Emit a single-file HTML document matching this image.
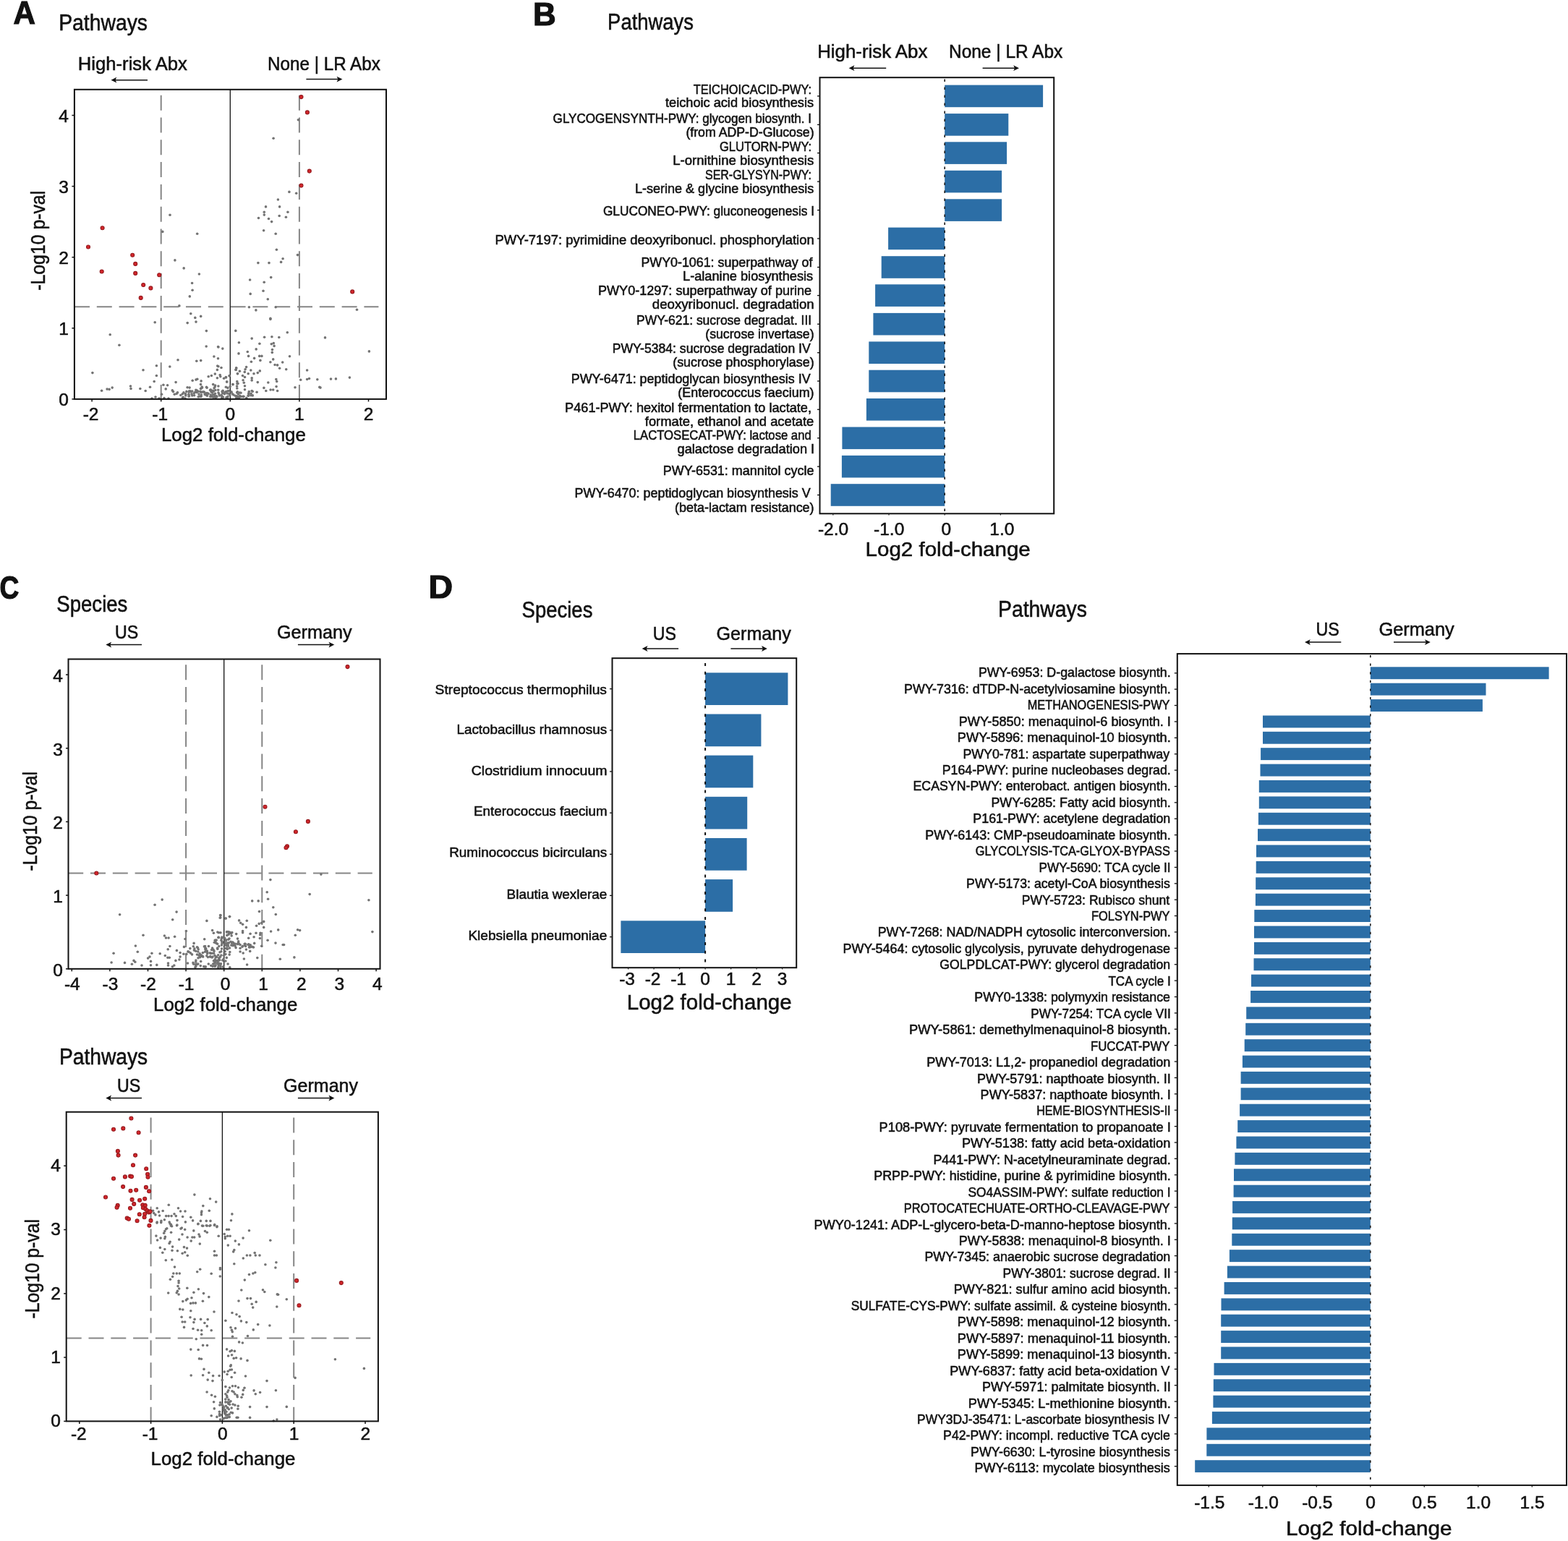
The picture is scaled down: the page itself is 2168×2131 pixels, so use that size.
<!DOCTYPE html><html><head><meta charset="utf-8"><title>Figure</title><style>html,body{margin:0;padding:0;background:#fff;}svg{display:block;}text{stroke:#111;stroke-width:0.55px;}text[font-weight=bold]{stroke-width:1.2px;}</style></head><body><svg width="2168" height="2131" viewBox="0 0 2168 2131" font-family='"Liberation Sans", Arial, sans-serif' fill="#111"><text x="18.4" y="32.5" font-size="45" textLength="30.4" lengthAdjust="spacingAndGlyphs" font-weight="bold">A</text><text x="81.2" y="41.9" font-size="31" textLength="122.8" lengthAdjust="spacingAndGlyphs">Pathways</text><text x="107.8" y="97.1" font-size="26" textLength="151.1" lengthAdjust="spacingAndGlyphs">High-risk Abx</text><text x="370.0" y="97.4" font-size="26" textLength="155.9" lengthAdjust="spacingAndGlyphs">None | LR Abx</text><line x1="158.5" y1="110.7" x2="204.0" y2="110.7" stroke="#111" stroke-width="1.5"/><path d="M153.5,110.7 L161.3,106.8 L159.5,110.7 L161.3,114.6 Z" fill="#111"/><line x1="423.4" y1="109.6" x2="468.4" y2="109.6" stroke="#111" stroke-width="1.5"/><path d="M473.4,109.6 L465.6,105.7 L467.4,109.6 L465.6,113.5 Z" fill="#111"/><line x1="222.7" y1="131.7" x2="222.7" y2="551.9" stroke="#858585" stroke-width="2" stroke-dasharray="21 9.8"/><line x1="413.9" y1="131.7" x2="413.9" y2="551.9" stroke="#858585" stroke-width="2" stroke-dasharray="21 9.8"/><line x1="103.0" y1="424.3" x2="523.4" y2="424.3" stroke="#858585" stroke-width="2" stroke-dasharray="21 9.8"/><line x1="318.3" y1="123.8" x2="318.3" y2="551.9" stroke="#111" stroke-width="1.3"/><g fill="#737373"><circle cx="235.0" cy="297.3" r="1.8"/><circle cx="224.8" cy="320.4" r="1.8"/><circle cx="272.7" cy="323.3" r="1.8"/><circle cx="241.9" cy="359.9" r="1.8"/><circle cx="254.2" cy="370.9" r="1.8"/><circle cx="275.4" cy="379.0" r="1.8"/><circle cx="265.6" cy="391.5" r="1.8"/><circle cx="266.1" cy="401.2" r="1.8"/><circle cx="262.3" cy="409.9" r="1.8"/><circle cx="247.9" cy="422.9" r="1.8"/><circle cx="263.8" cy="433.7" r="1.8"/><circle cx="269.8" cy="439.4" r="1.8"/><circle cx="277.7" cy="437.4" r="1.8"/><circle cx="271.0" cy="445.1" r="1.8"/><circle cx="259.2" cy="446.6" r="1.8"/><circle cx="214.2" cy="445.7" r="1.8"/><circle cx="285.4" cy="457.6" r="1.8"/><circle cx="152.2" cy="462.8" r="1.8"/><circle cx="164.9" cy="477.2" r="1.8"/><circle cx="285.2" cy="479.0" r="1.8"/><circle cx="301.6" cy="479.5" r="1.8"/><circle cx="412.4" cy="165.7" r="1.8"/><circle cx="378.1" cy="191.2" r="1.8"/><circle cx="399.9" cy="265.4" r="1.8"/><circle cx="409.7" cy="267.2" r="1.8"/><circle cx="384.4" cy="276.0" r="1.8"/><circle cx="367.5" cy="285.9" r="1.8"/><circle cx="386.6" cy="285.9" r="1.8"/><circle cx="365.3" cy="293.2" r="1.8"/><circle cx="397.9" cy="293.2" r="1.8"/><circle cx="365.3" cy="297.1" r="1.8"/><circle cx="357.5" cy="301.5" r="1.8"/><circle cx="386.2" cy="298.5" r="1.8"/><circle cx="395.4" cy="300.3" r="1.8"/><circle cx="371.5" cy="302.5" r="1.8"/><circle cx="375.6" cy="306.6" r="1.8"/><circle cx="364.6" cy="318.7" r="1.8"/><circle cx="381.2" cy="323.2" r="1.8"/><circle cx="382.4" cy="345.2" r="1.8"/><circle cx="411.5" cy="352.6" r="1.8"/><circle cx="391.1" cy="357.7" r="1.8"/><circle cx="388.6" cy="362.4" r="1.8"/><circle cx="356.9" cy="363.6" r="1.8"/><circle cx="372.0" cy="363.6" r="1.8"/><circle cx="374.7" cy="383.6" r="1.8"/><circle cx="345.6" cy="387.0" r="1.8"/><circle cx="365.2" cy="390.3" r="1.8"/><circle cx="364.0" cy="402.2" r="1.8"/><circle cx="346.2" cy="406.4" r="1.8"/><circle cx="370.3" cy="413.8" r="1.8"/><circle cx="344.4" cy="424.8" r="1.8"/><circle cx="381.2" cy="424.8" r="1.8"/><circle cx="353.9" cy="428.9" r="1.8"/><circle cx="493.5" cy="428.3" r="1.8"/><circle cx="373.9" cy="440.2" r="1.8"/><circle cx="373.9" cy="441.4" r="1.8"/><circle cx="325.8" cy="457.4" r="1.8"/><circle cx="397.3" cy="459.8" r="1.8"/><circle cx="348.2" cy="468.1" r="1.8"/><circle cx="365.6" cy="466.3" r="1.8"/><circle cx="375.9" cy="465.7" r="1.8"/><circle cx="385.8" cy="466.5" r="1.8"/><circle cx="449.5" cy="466.9" r="1.8"/><circle cx="330.4" cy="473.7" r="1.8"/><circle cx="358.9" cy="475.2" r="1.8"/><circle cx="375.3" cy="475.8" r="1.8"/><circle cx="378.3" cy="474.6" r="1.8"/><circle cx="379.1" cy="478.4" r="1.8"/><circle cx="354.2" cy="482.9" r="1.8"/><circle cx="376.5" cy="483.5" r="1.8"/><circle cx="376.3" cy="487.4" r="1.8"/><circle cx="342.3" cy="486.5" r="1.8"/><circle cx="330.0" cy="488.9" r="1.8"/><circle cx="510.4" cy="485.9" r="1.8"/><circle cx="343.6" cy="492.4" r="1.8"/><circle cx="358.7" cy="492.4" r="1.8"/><circle cx="361.9" cy="492.4" r="1.8"/><circle cx="351.6" cy="495.4" r="1.8"/><circle cx="400.5" cy="492.7" r="1.8"/><circle cx="377.7" cy="496.9" r="1.8"/><circle cx="359.9" cy="498.4" r="1.8"/><circle cx="347.4" cy="500.3" r="1.8"/><circle cx="373.9" cy="500.7" r="1.8"/><circle cx="390.7" cy="501.0" r="1.8"/><circle cx="380.1" cy="504.5" r="1.8"/><circle cx="383.6" cy="504.9" r="1.8"/><circle cx="386.6" cy="509.3" r="1.8"/><circle cx="395.7" cy="510.8" r="1.8"/><circle cx="326.6" cy="508.8" r="1.8"/><circle cx="326.0" cy="511.2" r="1.8"/><circle cx="340.6" cy="507.6" r="1.8"/><circle cx="339.1" cy="510.8" r="1.8"/><circle cx="338.3" cy="514.4" r="1.8"/><circle cx="331.4" cy="513.2" r="1.8"/><circle cx="328.4" cy="516.8" r="1.8"/><circle cx="346.8" cy="512.0" r="1.8"/><circle cx="343.2" cy="516.8" r="1.8"/><circle cx="351.0" cy="516.8" r="1.8"/><circle cx="356.3" cy="515.6" r="1.8"/><circle cx="359.3" cy="512.9" r="1.8"/><circle cx="424.6" cy="512.0" r="1.8"/><circle cx="335.5" cy="519.5" r="1.8"/><circle cx="338.5" cy="521.5" r="1.8"/><circle cx="348.2" cy="522.7" r="1.8"/><circle cx="348.2" cy="525.9" r="1.8"/><circle cx="336.1" cy="525.7" r="1.8"/><circle cx="337.3" cy="529.2" r="1.8"/><circle cx="338.5" cy="533.7" r="1.8"/><circle cx="356.3" cy="528.6" r="1.8"/><circle cx="370.8" cy="529.0" r="1.8"/><circle cx="381.8" cy="524.5" r="1.8"/><circle cx="382.7" cy="527.5" r="1.8"/><circle cx="415.7" cy="525.3" r="1.8"/><circle cx="424.6" cy="524.5" r="1.8"/><circle cx="427.5" cy="523.5" r="1.8"/><circle cx="438.8" cy="524.7" r="1.8"/><circle cx="457.5" cy="524.1" r="1.8"/><circle cx="464.4" cy="523.9" r="1.8"/><circle cx="483.4" cy="522.1" r="1.8"/><circle cx="408.0" cy="535.8" r="1.8"/><circle cx="441.8" cy="535.4" r="1.8"/><circle cx="443.0" cy="536.1" r="1.8"/><circle cx="382.1" cy="534.6" r="1.8"/><circle cx="364.9" cy="536.4" r="1.8"/><circle cx="367.8" cy="540.5" r="1.8"/><circle cx="374.1" cy="539.0" r="1.8"/><circle cx="377.7" cy="539.0" r="1.8"/><circle cx="383.6" cy="540.5" r="1.8"/><circle cx="327.8" cy="527.5" r="1.8"/><circle cx="329.0" cy="530.4" r="1.8"/><circle cx="327.6" cy="534.0" r="1.8"/><circle cx="327.8" cy="537.0" r="1.8"/><circle cx="312.4" cy="521.5" r="1.8"/><circle cx="313.6" cy="528.0" r="1.8"/><circle cx="321.9" cy="531.6" r="1.8"/><circle cx="312.4" cy="535.2" r="1.8"/><circle cx="317.1" cy="519.7" r="1.8"/><circle cx="355.1" cy="542.3" r="1.8"/><circle cx="338.5" cy="538.7" r="1.8"/><circle cx="343.2" cy="547.0" r="1.8"/><circle cx="301.9" cy="480.0" r="1.8"/><circle cx="307.8" cy="482.1" r="1.8"/><circle cx="295.9" cy="493.0" r="1.8"/><circle cx="301.5" cy="495.8" r="1.8"/><circle cx="246.0" cy="497.8" r="1.8"/><circle cx="271.8" cy="499.3" r="1.8"/><circle cx="277.7" cy="498.6" r="1.8"/><circle cx="216.4" cy="505.7" r="1.8"/><circle cx="234.8" cy="507.0" r="1.8"/><circle cx="198.0" cy="511.8" r="1.8"/><circle cx="127.9" cy="515.6" r="1.8"/><circle cx="216.4" cy="519.5" r="1.8"/><circle cx="300.7" cy="506.1" r="1.8"/><circle cx="301.9" cy="506.7" r="1.8"/><circle cx="306.0" cy="508.5" r="1.8"/><circle cx="300.4" cy="511.4" r="1.8"/><circle cx="297.3" cy="517.1" r="1.8"/><circle cx="288.2" cy="520.7" r="1.8"/><circle cx="292.4" cy="519.5" r="1.8"/><circle cx="304.2" cy="518.6" r="1.8"/><circle cx="304.8" cy="520.7" r="1.8"/><circle cx="300.4" cy="522.7" r="1.8"/><circle cx="309.6" cy="523.3" r="1.8"/><circle cx="312.5" cy="521.9" r="1.8"/><circle cx="317.3" cy="519.7" r="1.8"/><circle cx="326.8" cy="509.0" r="1.8"/><circle cx="326.2" cy="511.4" r="1.8"/><circle cx="328.6" cy="516.8" r="1.8"/><circle cx="213.2" cy="527.5" r="1.8"/><circle cx="243.1" cy="528.6" r="1.8"/><circle cx="266.2" cy="526.3" r="1.8"/><circle cx="271.0" cy="525.1" r="1.8"/><circle cx="272.8" cy="524.3" r="1.8"/><circle cx="278.1" cy="526.9" r="1.8"/><circle cx="277.5" cy="531.6" r="1.8"/><circle cx="277.5" cy="537.5" r="1.8"/><circle cx="225.9" cy="532.2" r="1.8"/><circle cx="231.6" cy="532.8" r="1.8"/><circle cx="229.2" cy="537.9" r="1.8"/><circle cx="238.3" cy="539.9" r="1.8"/><circle cx="207.5" cy="535.2" r="1.8"/><circle cx="193.8" cy="537.5" r="1.8"/><circle cx="201.2" cy="540.5" r="1.8"/><circle cx="180.5" cy="534.0" r="1.8"/><circle cx="181.0" cy="537.5" r="1.8"/><circle cx="155.2" cy="536.1" r="1.8"/><circle cx="148.1" cy="538.1" r="1.8"/><circle cx="151.1" cy="538.4" r="1.8"/><circle cx="140.6" cy="540.2" r="1.8"/><circle cx="259.1" cy="535.8" r="1.8"/><circle cx="262.1" cy="536.1" r="1.8"/><circle cx="285.5" cy="535.2" r="1.8"/><circle cx="294.7" cy="531.6" r="1.8"/><circle cx="297.1" cy="534.9" r="1.8"/><circle cx="301.9" cy="534.0" r="1.8"/><circle cx="313.7" cy="528.0" r="1.8"/><circle cx="314.9" cy="536.4" r="1.8"/><circle cx="322.0" cy="531.6" r="1.8"/><circle cx="328.0" cy="530.4" r="1.8"/><circle cx="257.9" cy="541.4" r="1.8"/><circle cx="263.6" cy="541.4" r="1.8"/><circle cx="245.5" cy="542.9" r="1.8"/><circle cx="249.8" cy="546.5" r="1.8"/><circle cx="241.3" cy="545.3" r="1.8"/><circle cx="256.7" cy="545.3" r="1.8"/><circle cx="269.8" cy="542.3" r="1.8"/><circle cx="223.5" cy="545.3" r="1.8"/><circle cx="210.0" cy="551.0" r="1.8"/><circle cx="220.0" cy="551.0" r="1.8"/><circle cx="227.0" cy="550.5" r="1.8"/><circle cx="233.0" cy="551.0" r="1.8"/><circle cx="256.0" cy="551.0" r="1.8"/><circle cx="215.0" cy="549.0" r="1.8"/><circle cx="292.1" cy="541.6" r="1.8"/><circle cx="314.8" cy="540.8" r="1.8"/><circle cx="307.6" cy="543.8" r="1.8"/><circle cx="260.9" cy="545.3" r="1.8"/><circle cx="256.4" cy="544.6" r="1.8"/><circle cx="263.1" cy="541.0" r="1.8"/><circle cx="299.9" cy="548.7" r="1.8"/><circle cx="271.4" cy="542.3" r="1.8"/><circle cx="313.3" cy="550.0" r="1.8"/><circle cx="310.2" cy="544.2" r="1.8"/><circle cx="348.2" cy="540.5" r="1.8"/><circle cx="331.2" cy="543.0" r="1.8"/><circle cx="274.1" cy="541.2" r="1.8"/><circle cx="290.8" cy="548.6" r="1.8"/><circle cx="278.4" cy="546.1" r="1.8"/><circle cx="314.0" cy="543.9" r="1.8"/><circle cx="308.3" cy="540.7" r="1.8"/><circle cx="261.2" cy="542.2" r="1.8"/><circle cx="316.7" cy="544.5" r="1.8"/><circle cx="291.3" cy="546.1" r="1.8"/><circle cx="302.0" cy="543.1" r="1.8"/><circle cx="325.3" cy="547.3" r="1.8"/><circle cx="284.9" cy="546.0" r="1.8"/><circle cx="306.9" cy="549.2" r="1.8"/><circle cx="320.2" cy="543.0" r="1.8"/><circle cx="349.2" cy="541.2" r="1.8"/><circle cx="299.4" cy="547.9" r="1.8"/><circle cx="275.0" cy="545.1" r="1.8"/><circle cx="256.8" cy="547.0" r="1.8"/><circle cx="322.9" cy="546.0" r="1.8"/><circle cx="333.0" cy="543.3" r="1.8"/><circle cx="317.8" cy="546.2" r="1.8"/><circle cx="310.4" cy="544.8" r="1.8"/><circle cx="329.4" cy="549.9" r="1.8"/><circle cx="303.4" cy="547.0" r="1.8"/><circle cx="261.4" cy="547.4" r="1.8"/><circle cx="314.5" cy="550.4" r="1.8"/><circle cx="327.7" cy="543.0" r="1.8"/><circle cx="297.0" cy="547.0" r="1.8"/><circle cx="252.3" cy="544.8" r="1.8"/><circle cx="277.0" cy="541.2" r="1.8"/><circle cx="261.1" cy="548.1" r="1.8"/><circle cx="272.2" cy="542.6" r="1.8"/><circle cx="297.4" cy="549.1" r="1.8"/><circle cx="265.0" cy="544.7" r="1.8"/><circle cx="308.4" cy="549.3" r="1.8"/><circle cx="327.5" cy="549.1" r="1.8"/><circle cx="288.1" cy="544.4" r="1.8"/><circle cx="294.9" cy="549.3" r="1.8"/><circle cx="344.3" cy="541.6" r="1.8"/><circle cx="277.9" cy="542.4" r="1.8"/><circle cx="283.9" cy="545.1" r="1.8"/><circle cx="310.9" cy="542.8" r="1.8"/><circle cx="244.1" cy="544.4" r="1.8"/><circle cx="295.7" cy="545.9" r="1.8"/><circle cx="343.4" cy="547.3" r="1.8"/><circle cx="306.2" cy="546.5" r="1.8"/><circle cx="316.5" cy="540.6" r="1.8"/><circle cx="335.7" cy="548.2" r="1.8"/><circle cx="332.9" cy="548.4" r="1.8"/><circle cx="297.5" cy="544.2" r="1.8"/><circle cx="268.6" cy="546.7" r="1.8"/><circle cx="261.7" cy="540.7" r="1.8"/><circle cx="281.4" cy="541.7" r="1.8"/><circle cx="293.4" cy="540.6" r="1.8"/><circle cx="239.5" cy="541.6" r="1.8"/><circle cx="268.3" cy="543.8" r="1.8"/><circle cx="253.2" cy="549.2" r="1.8"/><circle cx="312.5" cy="541.6" r="1.8"/><circle cx="285.7" cy="543.6" r="1.8"/><circle cx="295.3" cy="541.3" r="1.8"/><circle cx="330.3" cy="550.4" r="1.8"/><circle cx="302.9" cy="545.1" r="1.8"/><circle cx="265.8" cy="541.1" r="1.8"/><circle cx="293.6" cy="542.8" r="1.8"/><circle cx="328.3" cy="541.7" r="1.8"/><circle cx="252.4" cy="550.0" r="1.8"/><circle cx="307.1" cy="541.5" r="1.8"/><circle cx="308.0" cy="540.3" r="1.8"/><circle cx="307.0" cy="550.3" r="1.8"/><circle cx="331.7" cy="547.3" r="1.8"/><circle cx="286.6" cy="543.9" r="1.8"/><circle cx="276.8" cy="548.1" r="1.8"/><circle cx="307.3" cy="548.2" r="1.8"/><circle cx="292.6" cy="542.3" r="1.8"/><circle cx="326.8" cy="550.3" r="1.8"/><circle cx="330.6" cy="548.5" r="1.8"/><circle cx="327.4" cy="547.8" r="1.8"/><circle cx="283.2" cy="545.4" r="1.8"/><circle cx="294.7" cy="540.3" r="1.8"/><circle cx="253.9" cy="542.9" r="1.8"/><circle cx="286.4" cy="547.3" r="1.8"/><circle cx="344.0" cy="544.7" r="1.8"/><circle cx="340.8" cy="550.4" r="1.8"/><circle cx="343.8" cy="543.8" r="1.8"/><circle cx="282.6" cy="542.4" r="1.8"/><circle cx="280.1" cy="542.1" r="1.8"/><circle cx="313.1" cy="549.5" r="1.8"/><circle cx="329.4" cy="545.0" r="1.8"/><circle cx="314.9" cy="548.4" r="1.8"/><circle cx="265.7" cy="546.9" r="1.8"/><circle cx="337.0" cy="548.2" r="1.8"/><circle cx="321.7" cy="545.0" r="1.8"/><circle cx="278.1" cy="548.3" r="1.8"/><circle cx="292.8" cy="548.4" r="1.8"/><circle cx="347.1" cy="544.2" r="1.8"/><circle cx="298.2" cy="549.9" r="1.8"/><circle cx="319.9" cy="541.8" r="1.8"/><circle cx="271.9" cy="541.6" r="1.8"/><circle cx="336.4" cy="548.5" r="1.8"/><circle cx="274.3" cy="548.7" r="1.8"/><circle cx="349.3" cy="546.9" r="1.8"/><circle cx="294.2" cy="545.8" r="1.8"/><circle cx="272.4" cy="540.1" r="1.8"/><circle cx="346.9" cy="546.8" r="1.8"/><circle cx="297.8" cy="539.5" r="1.8"/><circle cx="291.5" cy="539.1" r="1.8"/><circle cx="318.2" cy="534.5" r="1.8"/><circle cx="279.1" cy="535.1" r="1.8"/><circle cx="278.4" cy="537.1" r="1.8"/><circle cx="279.6" cy="535.9" r="1.8"/><circle cx="270.9" cy="539.4" r="1.8"/><circle cx="286.1" cy="536.2" r="1.8"/><circle cx="301.7" cy="539.3" r="1.8"/><circle cx="290.6" cy="539.4" r="1.8"/><circle cx="296.1" cy="536.7" r="1.8"/><circle cx="297.6" cy="533.1" r="1.8"/></g><g fill="#d3262b" stroke="#951a1e" stroke-width="1.1"><circle cx="141.6" cy="315.2" r="2.5"/><circle cx="122.0" cy="341.5" r="2.5"/><circle cx="140.7" cy="375.5" r="2.5"/><circle cx="183.2" cy="352.7" r="2.5"/><circle cx="187.2" cy="364.9" r="2.5"/><circle cx="187.2" cy="377.9" r="2.5"/><circle cx="220.2" cy="380.2" r="2.5"/><circle cx="198.2" cy="394.0" r="2.5"/><circle cx="208.4" cy="398.4" r="2.5"/><circle cx="194.7" cy="411.9" r="2.5"/><circle cx="416.5" cy="134.1" r="2.5"/><circle cx="424.9" cy="155.4" r="2.5"/><circle cx="427.8" cy="236.6" r="2.5"/><circle cx="416.5" cy="256.6" r="2.5"/><circle cx="487.2" cy="403.4" r="2.5"/></g><rect x="102.9" y="123.8" width="431.1" height="428.1" fill="none" stroke="#111" stroke-width="2"/><line x1="99.4" y1="551.9" x2="102.9" y2="551.9" stroke="#111" stroke-width="1.5"/><text x="94.8" y="560.9" font-size="24.5" text-anchor="end">0</text><line x1="99.4" y1="453.8" x2="102.9" y2="453.8" stroke="#111" stroke-width="1.5"/><text x="94.8" y="462.8" font-size="24.5" text-anchor="end">1</text><line x1="99.4" y1="355.7" x2="102.9" y2="355.7" stroke="#111" stroke-width="1.5"/><text x="94.8" y="364.7" font-size="24.5" text-anchor="end">2</text><line x1="99.4" y1="257.6" x2="102.9" y2="257.6" stroke="#111" stroke-width="1.5"/><text x="94.8" y="266.6" font-size="24.5" text-anchor="end">3</text><line x1="99.4" y1="159.5" x2="102.9" y2="159.5" stroke="#111" stroke-width="1.5"/><text x="94.8" y="168.5" font-size="24.5" text-anchor="end">4</text><line x1="127.1" y1="551.9" x2="127.1" y2="555.4" stroke="#111" stroke-width="1.5"/><text x="125.6" y="580.9" font-size="24.5" text-anchor="middle">-2</text><line x1="222.7" y1="551.9" x2="222.7" y2="555.4" stroke="#111" stroke-width="1.5"/><text x="221.2" y="580.9" font-size="24.5" text-anchor="middle">-1</text><line x1="318.3" y1="551.9" x2="318.3" y2="555.4" stroke="#111" stroke-width="1.5"/><text x="318.3" y="580.9" font-size="24.5" text-anchor="middle">0</text><line x1="413.9" y1="551.9" x2="413.9" y2="555.4" stroke="#111" stroke-width="1.5"/><text x="413.9" y="580.9" font-size="24.5" text-anchor="middle">1</text><line x1="509.5" y1="551.9" x2="509.5" y2="555.4" stroke="#111" stroke-width="1.5"/><text x="509.5" y="580.9" font-size="24.5" text-anchor="middle">2</text><text x="222.9" y="609.5" font-size="26.5" textLength="200.0" lengthAdjust="spacingAndGlyphs">Log2 fold-change</text><text x="0.0" y="0.0" font-size="27.0" textLength="138.0" lengthAdjust="spacingAndGlyphs" transform="translate(61.7,401.8) rotate(-90)">-Log10 p-val</text><text x="737.0" y="35.1" font-size="44" textLength="31.7" lengthAdjust="spacingAndGlyphs" font-weight="bold">B</text><text x="840.1" y="41.3" font-size="31" textLength="118.9" lengthAdjust="spacingAndGlyphs">Pathways</text><text x="1130.2" y="79.7" font-size="26" textLength="152.2" lengthAdjust="spacingAndGlyphs">High-risk Abx</text><text x="1312.0" y="79.7" font-size="26" textLength="157.2" lengthAdjust="spacingAndGlyphs">None | LR Abx</text><line x1="1178.6" y1="94.2" x2="1225.2" y2="94.2" stroke="#111" stroke-width="1.5"/><path d="M1173.6,94.2 L1181.4,90.3 L1179.6,94.2 L1181.4,98.1 Z" fill="#111"/><line x1="1358.6" y1="94.2" x2="1404.0" y2="94.2" stroke="#111" stroke-width="1.5"/><path d="M1409.0,94.2 L1401.2,90.3 L1403.0,94.2 L1401.2,98.1 Z" fill="#111"/><rect x="1306.2" y="117.6" width="135.9" height="30.6" fill="#2c6ea6"/><line x1="1130.0" y1="132.9" x2="1133.5" y2="132.9" stroke="#111" stroke-width="1.3"/><rect x="1306.2" y="157.1" width="88.1" height="30.6" fill="#2c6ea6"/><line x1="1130.0" y1="172.4" x2="1133.5" y2="172.4" stroke="#111" stroke-width="1.3"/><rect x="1306.2" y="196.3" width="85.9" height="30.6" fill="#2c6ea6"/><line x1="1130.0" y1="211.6" x2="1133.5" y2="211.6" stroke="#111" stroke-width="1.3"/><rect x="1306.2" y="235.8" width="78.9" height="30.6" fill="#2c6ea6"/><line x1="1130.0" y1="251.1" x2="1133.5" y2="251.1" stroke="#111" stroke-width="1.3"/><rect x="1306.2" y="275.3" width="78.9" height="30.6" fill="#2c6ea6"/><line x1="1130.0" y1="290.6" x2="1133.5" y2="290.6" stroke="#111" stroke-width="1.3"/><rect x="1228.1" y="314.6" width="78.1" height="30.6" fill="#2c6ea6"/><line x1="1130.0" y1="329.9" x2="1133.5" y2="329.9" stroke="#111" stroke-width="1.3"/><rect x="1218.7" y="354.2" width="87.5" height="30.6" fill="#2c6ea6"/><line x1="1130.0" y1="369.5" x2="1133.5" y2="369.5" stroke="#111" stroke-width="1.3"/><rect x="1210.1" y="393.3" width="96.1" height="30.6" fill="#2c6ea6"/><line x1="1130.0" y1="408.6" x2="1133.5" y2="408.6" stroke="#111" stroke-width="1.3"/><rect x="1207.4" y="432.9" width="98.8" height="30.6" fill="#2c6ea6"/><line x1="1130.0" y1="448.2" x2="1133.5" y2="448.2" stroke="#111" stroke-width="1.3"/><rect x="1201.3" y="472.4" width="104.9" height="30.6" fill="#2c6ea6"/><line x1="1130.0" y1="487.7" x2="1133.5" y2="487.7" stroke="#111" stroke-width="1.3"/><rect x="1201.3" y="511.7" width="104.9" height="30.6" fill="#2c6ea6"/><line x1="1130.0" y1="527.0" x2="1133.5" y2="527.0" stroke="#111" stroke-width="1.3"/><rect x="1197.9" y="551.0" width="108.3" height="30.6" fill="#2c6ea6"/><line x1="1130.0" y1="566.3" x2="1133.5" y2="566.3" stroke="#111" stroke-width="1.3"/><rect x="1164.4" y="590.5" width="141.8" height="30.6" fill="#2c6ea6"/><line x1="1130.0" y1="605.8" x2="1133.5" y2="605.8" stroke="#111" stroke-width="1.3"/><rect x="1163.9" y="629.9" width="142.3" height="30.6" fill="#2c6ea6"/><line x1="1130.0" y1="645.2" x2="1133.5" y2="645.2" stroke="#111" stroke-width="1.3"/><rect x="1148.7" y="669.2" width="157.5" height="30.6" fill="#2c6ea6"/><line x1="1130.0" y1="684.5" x2="1133.5" y2="684.5" stroke="#111" stroke-width="1.3"/><line x1="1306.2" y1="109.5" x2="1306.2" y2="710.3" stroke="#1a1a1a" stroke-width="1.6" stroke-dasharray="3.4 7.6"/><rect x="1133.5" y="107.2" width="323.7" height="603.1" fill="none" stroke="#111" stroke-width="2"/><line x1="1151.8" y1="710.3" x2="1151.8" y2="712.5" stroke="#222" stroke-width="1.3"/><text x="1152.0" y="739.5" font-size="24.5" text-anchor="middle">-2.0</text><line x1="1229.0" y1="710.3" x2="1229.0" y2="712.5" stroke="#222" stroke-width="1.3"/><text x="1229.2" y="739.5" font-size="24.5" text-anchor="middle">-1.0</text><line x1="1306.2" y1="710.3" x2="1306.2" y2="712.5" stroke="#222" stroke-width="1.3"/><text x="1308.2" y="739.5" font-size="24.5" text-anchor="middle">0</text><line x1="1383.4" y1="710.3" x2="1383.4" y2="712.5" stroke="#222" stroke-width="1.3"/><text x="1385.4" y="739.5" font-size="24.5" text-anchor="middle">1.0</text><text x="1196.6" y="768.8" font-size="28" textLength="228.2" lengthAdjust="spacingAndGlyphs">Log2 fold-change</text><text x="958.7" y="129.7" font-size="18.2" textLength="163.3" lengthAdjust="spacingAndGlyphs">TEICHOICACID-PWY:</text><text x="920.0" y="147.5" font-size="18.2" textLength="205.1" lengthAdjust="spacingAndGlyphs">teichoic acid biosynthesis</text><text x="764.6" y="170.0" font-size="18.2" textLength="357.5" lengthAdjust="spacingAndGlyphs">GLYCOGENSYNTH-PWY: glycogen biosynth. I</text><text x="948.4" y="189.0" font-size="18.2" textLength="177.2" lengthAdjust="spacingAndGlyphs">(from ADP-D-Glucose)</text><text x="995.0" y="208.8" font-size="18.2" textLength="127.1" lengthAdjust="spacingAndGlyphs">GLUTORN-PWY:</text><text x="930.2" y="228.2" font-size="18.2" textLength="195.0" lengthAdjust="spacingAndGlyphs">L-ornithine biosynthesis</text><text x="975.0" y="248.4" font-size="18.2" textLength="147.0" lengthAdjust="spacingAndGlyphs">SER-GLYSYN-PWY:</text><text x="878.1" y="267.4" font-size="18.2" textLength="247.1" lengthAdjust="spacingAndGlyphs">L-serine &amp; glycine biosynthesis</text><text x="833.9" y="298.3" font-size="18.2" textLength="292.1" lengthAdjust="spacingAndGlyphs">GLUCONEO-PWY: gluconeogenesis I</text><text x="684.4" y="337.5" font-size="18.2" textLength="441.3" lengthAdjust="spacingAndGlyphs">PWY-7197: pyrimidine deoxyribonucl. phosphorylation</text><text x="886.4" y="368.5" font-size="18.2" textLength="237.1" lengthAdjust="spacingAndGlyphs">PWY0-1061: superpathway of</text><text x="944.0" y="387.5" font-size="18.2" textLength="180.2" lengthAdjust="spacingAndGlyphs">L-alanine biosynthesis</text><text x="827.0" y="408.4" font-size="18.2" textLength="295.1" lengthAdjust="spacingAndGlyphs">PWY0-1297: superpathway of purine</text><text x="901.8" y="427.4" font-size="18.2" textLength="223.9" lengthAdjust="spacingAndGlyphs">deoxyribonucl. degradation</text><text x="880.0" y="448.8" font-size="18.2" textLength="242.2" lengthAdjust="spacingAndGlyphs">PWY-621: sucrose degradat. III</text><text x="975.3" y="468.2" font-size="18.2" textLength="150.3" lengthAdjust="spacingAndGlyphs">(sucrose invertase)</text><text x="846.7" y="487.7" font-size="18.2" textLength="274.0" lengthAdjust="spacingAndGlyphs">PWY-5384: sucrose degradation IV</text><text x="930.2" y="507.4" font-size="18.2" textLength="195.4" lengthAdjust="spacingAndGlyphs">(sucrose phosphorylase)</text><text x="789.7" y="530.0" font-size="18.2" textLength="330.9" lengthAdjust="spacingAndGlyphs">PWY-6471: peptidoglycan biosynthesis IV</text><text x="937.3" y="549.0" font-size="18.2" textLength="188.3" lengthAdjust="spacingAndGlyphs">(Enterococcus faecium)</text><text x="781.1" y="569.9" font-size="18.2" textLength="340.9" lengthAdjust="spacingAndGlyphs">P461-PWY: hexitol fermentation to lactate,</text><text x="891.8" y="588.9" font-size="18.2" textLength="233.5" lengthAdjust="spacingAndGlyphs">formate, ethanol and acetate</text><text x="875.8" y="607.5" font-size="18.2" textLength="245.9" lengthAdjust="spacingAndGlyphs">LACTOSECAT-PWY: lactose and</text><text x="936.5" y="627.0" font-size="18.2" textLength="189.7" lengthAdjust="spacingAndGlyphs">galactose degradation I</text><text x="916.8" y="657.3" font-size="18.2" textLength="208.6" lengthAdjust="spacingAndGlyphs">PWY-6531: mannitol cycle</text><text x="794.5" y="688.4" font-size="18.2" textLength="326.2" lengthAdjust="spacingAndGlyphs">PWY-6470: peptidoglycan biosynthesis V</text><text x="933.0" y="708.0" font-size="18.2" textLength="192.6" lengthAdjust="spacingAndGlyphs">(beta-lactam resistance)</text><text x="-0.5" y="827.5" font-size="44" textLength="26.8" lengthAdjust="spacingAndGlyphs" font-weight="bold">C</text><text x="78.3" y="845.6" font-size="31" textLength="98.1" lengthAdjust="spacingAndGlyphs">Species</text><text x="159.0" y="883.2" font-size="26" textLength="32.2" lengthAdjust="spacingAndGlyphs">US</text><text x="383.0" y="883.0" font-size="26" textLength="103.5" lengthAdjust="spacingAndGlyphs">Germany</text><line x1="151.3" y1="891.6" x2="196.0" y2="891.6" stroke="#111" stroke-width="1.5"/><path d="M146.3,891.6 L154.1,887.7 L152.3,891.6 L154.1,895.5 Z" fill="#111"/><line x1="411.9" y1="891.6" x2="457.3" y2="891.6" stroke="#111" stroke-width="1.5"/><path d="M462.3,891.6 L454.5,887.7 L456.3,891.6 L454.5,895.5 Z" fill="#111"/><line x1="257.1" y1="919.3" x2="257.1" y2="1339.8" stroke="#858585" stroke-width="2" stroke-dasharray="21 9.8"/><line x1="362.3" y1="919.3" x2="362.3" y2="1339.8" stroke="#858585" stroke-width="2" stroke-dasharray="21 9.8"/><line x1="94.2" y1="1207.5" x2="514.8" y2="1207.5" stroke="#858585" stroke-width="2" stroke-dasharray="21 9.8"/><line x1="309.7" y1="911.5" x2="309.7" y2="1339.8" stroke="#111" stroke-width="1.3"/><g fill="#737373"><circle cx="443.9" cy="1209.1" r="1.8"/><circle cx="373.9" cy="1216.6" r="1.8"/><circle cx="369.2" cy="1233.8" r="1.8"/><circle cx="428.2" cy="1236.6" r="1.8"/><circle cx="509.9" cy="1244.7" r="1.8"/><circle cx="370.6" cy="1243.3" r="1.8"/><circle cx="348.7" cy="1245.9" r="1.8"/><circle cx="357.2" cy="1245.9" r="1.8"/><circle cx="377.8" cy="1254.8" r="1.8"/><circle cx="358.5" cy="1260.5" r="1.8"/><circle cx="381.3" cy="1264.5" r="1.8"/><circle cx="304.7" cy="1265.5" r="1.8"/><circle cx="304.7" cy="1268.8" r="1.8"/><circle cx="312.1" cy="1270.0" r="1.8"/><circle cx="317.6" cy="1267.5" r="1.8"/><circle cx="330.6" cy="1272.9" r="1.8"/><circle cx="341.3" cy="1273.2" r="1.8"/><circle cx="332.7" cy="1276.2" r="1.8"/><circle cx="335.6" cy="1278.3" r="1.8"/><circle cx="340.4" cy="1282.4" r="1.8"/><circle cx="354.6" cy="1280.3" r="1.8"/><circle cx="358.2" cy="1277.4" r="1.8"/><circle cx="361.7" cy="1276.2" r="1.8"/><circle cx="364.7" cy="1274.4" r="1.8"/><circle cx="364.7" cy="1282.4" r="1.8"/><circle cx="384.7" cy="1285.9" r="1.8"/><circle cx="374.6" cy="1288.0" r="1.8"/><circle cx="411.6" cy="1285.7" r="1.8"/><circle cx="414.6" cy="1286.6" r="1.8"/><circle cx="408.3" cy="1293.2" r="1.8"/><circle cx="514.9" cy="1288.6" r="1.8"/><circle cx="335.6" cy="1287.5" r="1.8"/><circle cx="335.6" cy="1289.8" r="1.8"/><circle cx="354.0" cy="1290.2" r="1.8"/><circle cx="346.1" cy="1291.3" r="1.8"/><circle cx="360.0" cy="1290.2" r="1.8"/><circle cx="359.4" cy="1297.5" r="1.8"/><circle cx="359.7" cy="1292.8" r="1.8"/><circle cx="351.1" cy="1295.8" r="1.8"/><circle cx="343.7" cy="1297.3" r="1.8"/><circle cx="370.1" cy="1300.2" r="1.8"/><circle cx="381.0" cy="1304.1" r="1.8"/><circle cx="391.2" cy="1306.5" r="1.8"/><circle cx="392.6" cy="1306.5" r="1.8"/><circle cx="361.7" cy="1308.2" r="1.8"/><circle cx="351.7" cy="1304.4" r="1.8"/><circle cx="350.5" cy="1310.0" r="1.8"/><circle cx="326.7" cy="1291.6" r="1.8"/><circle cx="317.8" cy="1289.2" r="1.8"/><circle cx="319.6" cy="1291.0" r="1.8"/><circle cx="316.0" cy="1292.2" r="1.8"/><circle cx="328.5" cy="1298.1" r="1.8"/><circle cx="329.7" cy="1301.7" r="1.8"/><circle cx="319.0" cy="1302.3" r="1.8"/><circle cx="322.6" cy="1304.1" r="1.8"/><circle cx="311.9" cy="1305.9" r="1.8"/><circle cx="315.4" cy="1308.2" r="1.8"/><circle cx="326.1" cy="1310.6" r="1.8"/><circle cx="332.1" cy="1306.5" r="1.8"/><circle cx="335.6" cy="1308.2" r="1.8"/><circle cx="339.2" cy="1305.3" r="1.8"/><circle cx="343.9" cy="1305.9" r="1.8"/><circle cx="340.4" cy="1313.0" r="1.8"/><circle cx="345.7" cy="1315.4" r="1.8"/><circle cx="332.1" cy="1311.2" r="1.8"/><circle cx="332.1" cy="1316.0" r="1.8"/><circle cx="336.2" cy="1318.0" r="1.8"/><circle cx="317.8" cy="1316.5" r="1.8"/><circle cx="317.2" cy="1320.1" r="1.8"/><circle cx="311.9" cy="1319.5" r="1.8"/><circle cx="311.9" cy="1329.0" r="1.8"/><circle cx="337.4" cy="1326.0" r="1.8"/><circle cx="355.8" cy="1324.6" r="1.8"/><circle cx="387.3" cy="1326.3" r="1.8"/><circle cx="406.9" cy="1323.9" r="1.8"/><circle cx="341.6" cy="1334.0" r="1.8"/><circle cx="317.8" cy="1337.9" r="1.8"/><circle cx="302.4" cy="1289.8" r="1.8"/><circle cx="302.4" cy="1296.4" r="1.8"/><circle cx="301.2" cy="1331.4" r="1.8"/><circle cx="224.2" cy="1244.1" r="1.8"/><circle cx="214.1" cy="1251.2" r="1.8"/><circle cx="244.1" cy="1261.1" r="1.8"/><circle cx="165.6" cy="1264.7" r="1.8"/><circle cx="238.7" cy="1271.7" r="1.8"/><circle cx="285.9" cy="1273.4" r="1.8"/><circle cx="304.9" cy="1265.7" r="1.8"/><circle cx="304.3" cy="1269.3" r="1.8"/><circle cx="312.0" cy="1270.0" r="1.8"/><circle cx="317.4" cy="1267.6" r="1.8"/><circle cx="257.4" cy="1287.5" r="1.8"/><circle cx="293.6" cy="1286.6" r="1.8"/><circle cx="295.4" cy="1290.2" r="1.8"/><circle cx="300.8" cy="1289.0" r="1.8"/><circle cx="304.9" cy="1289.8" r="1.8"/><circle cx="198.0" cy="1293.2" r="1.8"/><circle cx="227.4" cy="1294.0" r="1.8"/><circle cx="229.5" cy="1297.0" r="1.8"/><circle cx="233.1" cy="1297.0" r="1.8"/><circle cx="241.6" cy="1295.2" r="1.8"/><circle cx="256.0" cy="1298.5" r="1.8"/><circle cx="282.7" cy="1298.7" r="1.8"/><circle cx="301.9" cy="1296.4" r="1.8"/><circle cx="297.8" cy="1302.9" r="1.8"/><circle cx="268.1" cy="1304.4" r="1.8"/><circle cx="187.4" cy="1308.0" r="1.8"/><circle cx="234.9" cy="1308.5" r="1.8"/><circle cx="254.5" cy="1309.4" r="1.8"/><circle cx="190.3" cy="1316.2" r="1.8"/><circle cx="157.1" cy="1318.3" r="1.8"/><circle cx="209.9" cy="1318.3" r="1.8"/><circle cx="221.2" cy="1318.7" r="1.8"/><circle cx="232.2" cy="1312.7" r="1.8"/><circle cx="244.4" cy="1314.4" r="1.8"/><circle cx="249.1" cy="1317.5" r="1.8"/><circle cx="253.9" cy="1319.2" r="1.8"/><circle cx="262.8" cy="1311.6" r="1.8"/><circle cx="261.0" cy="1316.3" r="1.8"/><circle cx="265.5" cy="1319.9" r="1.8"/><circle cx="273.4" cy="1310.6" r="1.8"/><circle cx="284.1" cy="1311.2" r="1.8"/><circle cx="293.6" cy="1311.0" r="1.8"/><circle cx="207.0" cy="1323.1" r="1.8"/><circle cx="204.6" cy="1325.1" r="1.8"/><circle cx="228.3" cy="1321.5" r="1.8"/><circle cx="231.9" cy="1324.3" r="1.8"/><circle cx="234.3" cy="1324.3" r="1.8"/><circle cx="249.1" cy="1323.1" r="1.8"/><circle cx="247.9" cy="1327.0" r="1.8"/><circle cx="242.9" cy="1328.4" r="1.8"/><circle cx="154.1" cy="1331.0" r="1.8"/><circle cx="172.5" cy="1331.4" r="1.8"/><circle cx="182.4" cy="1333.2" r="1.8"/><circle cx="185.0" cy="1328.4" r="1.8"/><circle cx="186.8" cy="1330.2" r="1.8"/><circle cx="196.0" cy="1335.0" r="1.8"/><circle cx="208.5" cy="1329.4" r="1.8"/><circle cx="208.5" cy="1334.7" r="1.8"/><circle cx="216.8" cy="1334.4" r="1.8"/><circle cx="232.5" cy="1332.0" r="1.8"/><circle cx="232.5" cy="1335.0" r="1.8"/><circle cx="238.4" cy="1336.7" r="1.8"/><circle cx="240.8" cy="1335.0" r="1.8"/><circle cx="292.6" cy="1313.5" r="1.8"/><circle cx="259.5" cy="1332.0" r="1.8"/><circle cx="278.9" cy="1322.2" r="1.8"/><circle cx="302.9" cy="1324.7" r="1.8"/><circle cx="287.5" cy="1323.6" r="1.8"/><circle cx="297.1" cy="1331.5" r="1.8"/><circle cx="274.0" cy="1324.8" r="1.8"/><circle cx="283.5" cy="1316.3" r="1.8"/><circle cx="304.4" cy="1323.2" r="1.8"/><circle cx="297.3" cy="1330.8" r="1.8"/><circle cx="309.6" cy="1321.3" r="1.8"/><circle cx="299.1" cy="1323.2" r="1.8"/><circle cx="295.4" cy="1328.8" r="1.8"/><circle cx="293.1" cy="1324.0" r="1.8"/><circle cx="294.1" cy="1336.2" r="1.8"/><circle cx="302.1" cy="1334.3" r="1.8"/><circle cx="311.2" cy="1315.8" r="1.8"/><circle cx="297.2" cy="1336.3" r="1.8"/><circle cx="306.6" cy="1312.1" r="1.8"/><circle cx="275.2" cy="1321.3" r="1.8"/><circle cx="270.8" cy="1315.2" r="1.8"/><circle cx="270.9" cy="1328.1" r="1.8"/><circle cx="304.8" cy="1334.9" r="1.8"/><circle cx="277.7" cy="1329.5" r="1.8"/><circle cx="300.8" cy="1312.3" r="1.8"/><circle cx="308.3" cy="1337.0" r="1.8"/><circle cx="281.8" cy="1336.6" r="1.8"/><circle cx="290.8" cy="1322.6" r="1.8"/><circle cx="315.1" cy="1333.0" r="1.8"/><circle cx="278.1" cy="1320.9" r="1.8"/><circle cx="295.6" cy="1318.2" r="1.8"/><circle cx="280.4" cy="1317.6" r="1.8"/><circle cx="302.8" cy="1308.6" r="1.8"/><circle cx="297.0" cy="1321.2" r="1.8"/><circle cx="263.4" cy="1317.9" r="1.8"/><circle cx="299.5" cy="1323.4" r="1.8"/><circle cx="270.0" cy="1337.6" r="1.8"/><circle cx="304.9" cy="1337.2" r="1.8"/><circle cx="273.8" cy="1316.0" r="1.8"/><circle cx="267.0" cy="1331.4" r="1.8"/><circle cx="284.7" cy="1311.9" r="1.8"/><circle cx="291.8" cy="1335.3" r="1.8"/><circle cx="305.9" cy="1315.8" r="1.8"/><circle cx="277.3" cy="1335.6" r="1.8"/><circle cx="297.6" cy="1329.0" r="1.8"/><circle cx="272.5" cy="1309.7" r="1.8"/><circle cx="301.7" cy="1320.8" r="1.8"/><circle cx="270.8" cy="1336.2" r="1.8"/><circle cx="299.9" cy="1332.0" r="1.8"/><circle cx="272.0" cy="1333.7" r="1.8"/><circle cx="270.2" cy="1333.9" r="1.8"/><circle cx="293.1" cy="1318.2" r="1.8"/><circle cx="297.0" cy="1335.8" r="1.8"/><circle cx="284.5" cy="1311.9" r="1.8"/><circle cx="296.0" cy="1315.2" r="1.8"/><circle cx="274.2" cy="1312.8" r="1.8"/><circle cx="268.4" cy="1314.1" r="1.8"/><circle cx="286.8" cy="1317.2" r="1.8"/><circle cx="304.0" cy="1316.7" r="1.8"/><circle cx="295.0" cy="1313.3" r="1.8"/><circle cx="288.5" cy="1308.5" r="1.8"/><circle cx="283.6" cy="1308.5" r="1.8"/><circle cx="303.2" cy="1324.5" r="1.8"/><circle cx="280.0" cy="1322.2" r="1.8"/><circle cx="310.7" cy="1311.2" r="1.8"/><circle cx="305.9" cy="1321.0" r="1.8"/><circle cx="294.8" cy="1333.0" r="1.8"/><circle cx="290.6" cy="1323.2" r="1.8"/><circle cx="301.7" cy="1337.5" r="1.8"/><circle cx="288.3" cy="1333.0" r="1.8"/><circle cx="302.3" cy="1327.1" r="1.8"/><circle cx="291.1" cy="1318.4" r="1.8"/><circle cx="268.9" cy="1311.9" r="1.8"/><circle cx="270.7" cy="1330.2" r="1.8"/><circle cx="283.9" cy="1312.9" r="1.8"/><circle cx="272.0" cy="1333.2" r="1.8"/><circle cx="307.8" cy="1328.1" r="1.8"/><circle cx="285.3" cy="1315.3" r="1.8"/><circle cx="285.8" cy="1321.8" r="1.8"/><circle cx="277.9" cy="1321.4" r="1.8"/><circle cx="284.3" cy="1336.9" r="1.8"/><circle cx="313.3" cy="1324.4" r="1.8"/><circle cx="283.3" cy="1337.0" r="1.8"/><circle cx="286.7" cy="1318.7" r="1.8"/><circle cx="257.8" cy="1319.4" r="1.8"/><circle cx="294.0" cy="1323.1" r="1.8"/><circle cx="280.7" cy="1323.1" r="1.8"/><circle cx="259.9" cy="1315.9" r="1.8"/><circle cx="272.5" cy="1320.0" r="1.8"/><circle cx="267.3" cy="1308.7" r="1.8"/><circle cx="286.4" cy="1315.0" r="1.8"/><circle cx="298.2" cy="1323.9" r="1.8"/><circle cx="303.8" cy="1327.7" r="1.8"/><circle cx="302.6" cy="1334.4" r="1.8"/><circle cx="290.4" cy="1317.8" r="1.8"/><circle cx="314.5" cy="1312.5" r="1.8"/><circle cx="302.9" cy="1327.3" r="1.8"/><circle cx="267.5" cy="1333.1" r="1.8"/><circle cx="308.7" cy="1326.8" r="1.8"/><circle cx="303.2" cy="1332.4" r="1.8"/><circle cx="276.6" cy="1323.7" r="1.8"/><circle cx="295.1" cy="1333.0" r="1.8"/><circle cx="305.5" cy="1332.8" r="1.8"/><circle cx="298.1" cy="1334.8" r="1.8"/><circle cx="301.5" cy="1328.8" r="1.8"/><circle cx="282.4" cy="1308.9" r="1.8"/><circle cx="276.1" cy="1318.8" r="1.8"/><circle cx="273.9" cy="1333.1" r="1.8"/><circle cx="297.2" cy="1326.8" r="1.8"/><circle cx="299.6" cy="1328.4" r="1.8"/><circle cx="306.8" cy="1296.1" r="1.8"/><circle cx="313.5" cy="1308.0" r="1.8"/><circle cx="307.1" cy="1304.6" r="1.8"/><circle cx="310.5" cy="1297.1" r="1.8"/><circle cx="312.2" cy="1300.0" r="1.8"/><circle cx="297.6" cy="1300.2" r="1.8"/><circle cx="312.0" cy="1299.3" r="1.8"/><circle cx="312.3" cy="1311.6" r="1.8"/><circle cx="306.9" cy="1302.1" r="1.8"/><circle cx="306.5" cy="1306.9" r="1.8"/><circle cx="312.9" cy="1305.9" r="1.8"/><circle cx="310.1" cy="1297.2" r="1.8"/><circle cx="299.2" cy="1300.1" r="1.8"/><circle cx="312.4" cy="1300.9" r="1.8"/><circle cx="308.5" cy="1296.2" r="1.8"/><circle cx="297.3" cy="1300.3" r="1.8"/><circle cx="310.8" cy="1307.1" r="1.8"/><circle cx="310.9" cy="1300.7" r="1.8"/><circle cx="307.4" cy="1303.4" r="1.8"/><circle cx="306.3" cy="1297.9" r="1.8"/><circle cx="315.7" cy="1299.2" r="1.8"/><circle cx="317.5" cy="1311.0" r="1.8"/><circle cx="296.4" cy="1303.3" r="1.8"/><circle cx="314.0" cy="1311.5" r="1.8"/><circle cx="305.9" cy="1300.3" r="1.8"/><circle cx="300.6" cy="1311.1" r="1.8"/><circle cx="300.6" cy="1305.3" r="1.8"/><circle cx="299.1" cy="1304.4" r="1.8"/><circle cx="317.0" cy="1298.1" r="1.8"/><circle cx="314.0" cy="1304.1" r="1.8"/><circle cx="344.7" cy="1309.5" r="1.8"/><circle cx="319.8" cy="1307.1" r="1.8"/><circle cx="329.5" cy="1304.1" r="1.8"/><circle cx="311.1" cy="1304.0" r="1.8"/><circle cx="328.1" cy="1305.3" r="1.8"/><circle cx="316.3" cy="1303.9" r="1.8"/><circle cx="323.0" cy="1307.3" r="1.8"/><circle cx="311.1" cy="1305.3" r="1.8"/><circle cx="342.9" cy="1306.3" r="1.8"/><circle cx="346.2" cy="1309.7" r="1.8"/><circle cx="345.3" cy="1307.5" r="1.8"/><circle cx="325.1" cy="1305.3" r="1.8"/><circle cx="349.0" cy="1309.4" r="1.8"/><circle cx="324.7" cy="1305.4" r="1.8"/><circle cx="321.5" cy="1303.1" r="1.8"/><circle cx="314.9" cy="1306.2" r="1.8"/><circle cx="321.9" cy="1307.6" r="1.8"/><circle cx="320.5" cy="1304.1" r="1.8"/><circle cx="330.4" cy="1305.0" r="1.8"/><circle cx="325.2" cy="1308.1" r="1.8"/><circle cx="344.6" cy="1310.0" r="1.8"/><circle cx="335.0" cy="1309.2" r="1.8"/><circle cx="346.7" cy="1308.9" r="1.8"/><circle cx="338.3" cy="1305.3" r="1.8"/><circle cx="338.8" cy="1307.4" r="1.8"/><circle cx="339.6" cy="1308.5" r="1.8"/><circle cx="321.9" cy="1303.2" r="1.8"/><circle cx="346.2" cy="1306.8" r="1.8"/><circle cx="328.9" cy="1305.6" r="1.8"/><circle cx="322.3" cy="1306.7" r="1.8"/><circle cx="320.8" cy="1289.6" r="1.8"/><circle cx="317.9" cy="1289.8" r="1.8"/><circle cx="317.0" cy="1290.4" r="1.8"/><circle cx="313.5" cy="1289.0" r="1.8"/><circle cx="313.9" cy="1293.4" r="1.8"/><circle cx="316.5" cy="1289.3" r="1.8"/><circle cx="320.2" cy="1294.0" r="1.8"/><circle cx="316.0" cy="1288.8" r="1.8"/><circle cx="313.7" cy="1288.5" r="1.8"/><circle cx="315.1" cy="1288.5" r="1.8"/></g><g fill="#d3262b" stroke="#951a1e" stroke-width="1.1"><circle cx="133.3" cy="1207.5" r="2.5"/><circle cx="480.5" cy="922.1" r="2.5"/><circle cx="366.5" cy="1115.8" r="2.5"/><circle cx="425.9" cy="1135.9" r="2.5"/><circle cx="408.9" cy="1150.2" r="2.5"/><circle cx="397.0" cy="1170.2" r="2.5"/><circle cx="395.5" cy="1172.3" r="2.5"/></g><rect x="94.5" y="911.5" width="431.0" height="428.3" fill="none" stroke="#111" stroke-width="2"/><line x1="91.0" y1="1339.8" x2="94.5" y2="1339.8" stroke="#111" stroke-width="1.5"/><text x="86.9" y="1349.8" font-size="24.5" text-anchor="end">0</text><line x1="91.0" y1="1238.1" x2="94.5" y2="1238.1" stroke="#111" stroke-width="1.5"/><text x="86.9" y="1248.1" font-size="24.5" text-anchor="end">1</text><line x1="91.0" y1="1136.4" x2="94.5" y2="1136.4" stroke="#111" stroke-width="1.5"/><text x="86.9" y="1146.4" font-size="24.5" text-anchor="end">2</text><line x1="91.0" y1="1034.7" x2="94.5" y2="1034.7" stroke="#111" stroke-width="1.5"/><text x="86.9" y="1044.7" font-size="24.5" text-anchor="end">3</text><line x1="91.0" y1="933.0" x2="94.5" y2="933.0" stroke="#111" stroke-width="1.5"/><text x="86.9" y="943.0" font-size="24.5" text-anchor="end">4</text><line x1="99.3" y1="1339.8" x2="99.3" y2="1343.3" stroke="#111" stroke-width="1.5"/><text x="99.8" y="1368.9" font-size="24.5" text-anchor="middle">-4</text><line x1="151.9" y1="1339.8" x2="151.9" y2="1343.3" stroke="#111" stroke-width="1.5"/><text x="152.4" y="1368.9" font-size="24.5" text-anchor="middle">-3</text><line x1="204.5" y1="1339.8" x2="204.5" y2="1343.3" stroke="#111" stroke-width="1.5"/><text x="205.0" y="1368.9" font-size="24.5" text-anchor="middle">-2</text><line x1="257.1" y1="1339.8" x2="257.1" y2="1343.3" stroke="#111" stroke-width="1.5"/><text x="257.6" y="1368.9" font-size="24.5" text-anchor="middle">-1</text><line x1="309.7" y1="1339.8" x2="309.7" y2="1343.3" stroke="#111" stroke-width="1.5"/><text x="311.5" y="1368.9" font-size="24.5" text-anchor="middle">0</text><line x1="362.3" y1="1339.8" x2="362.3" y2="1343.3" stroke="#111" stroke-width="1.5"/><text x="364.1" y="1368.9" font-size="24.5" text-anchor="middle">1</text><line x1="414.9" y1="1339.8" x2="414.9" y2="1343.3" stroke="#111" stroke-width="1.5"/><text x="416.7" y="1368.9" font-size="24.5" text-anchor="middle">2</text><line x1="467.5" y1="1339.8" x2="467.5" y2="1343.3" stroke="#111" stroke-width="1.5"/><text x="469.3" y="1368.9" font-size="24.5" text-anchor="middle">3</text><line x1="520.1" y1="1339.8" x2="520.1" y2="1343.3" stroke="#111" stroke-width="1.5"/><text x="521.9" y="1368.9" font-size="24.5" text-anchor="middle">4</text><text x="212.1" y="1398.0" font-size="26.5" textLength="199.2" lengthAdjust="spacingAndGlyphs">Log2 fold-change</text><text x="0.0" y="0.0" font-size="27.0" textLength="137.5" lengthAdjust="spacingAndGlyphs" transform="translate(50.6,1204.5) rotate(-90)">-Log10 p-val</text><text x="81.9" y="1472.0" font-size="31" textLength="122.3" lengthAdjust="spacingAndGlyphs">Pathways</text><text x="162.1" y="1510.0" font-size="26" textLength="32.2" lengthAdjust="spacingAndGlyphs">US</text><text x="392.1" y="1510.0" font-size="26" textLength="102.9" lengthAdjust="spacingAndGlyphs">Germany</text><line x1="151.3" y1="1518.5" x2="196.0" y2="1518.5" stroke="#111" stroke-width="1.5"/><path d="M146.3,1518.5 L154.1,1514.6 L152.3,1518.5 L154.1,1522.4 Z" fill="#111"/><line x1="411.9" y1="1518.5" x2="457.3" y2="1518.5" stroke="#111" stroke-width="1.5"/><path d="M462.3,1518.5 L454.5,1514.6 L456.3,1518.5 L454.5,1522.4 Z" fill="#111"/><line x1="208.6" y1="1545.4" x2="208.6" y2="1965.4" stroke="#858585" stroke-width="2" stroke-dasharray="21 9.8"/><line x1="406.2" y1="1545.4" x2="406.2" y2="1965.4" stroke="#858585" stroke-width="2" stroke-dasharray="21 9.8"/><line x1="91.7" y1="1850.5" x2="512.2" y2="1850.5" stroke="#858585" stroke-width="2" stroke-dasharray="21 9.8"/><line x1="307.4" y1="1537.7" x2="307.4" y2="1965.4" stroke="#111" stroke-width="1.3"/><g fill="#737373"><circle cx="268.9" cy="1652.1" r="1.8"/><circle cx="290.5" cy="1657.8" r="1.8"/><circle cx="298.7" cy="1662.1" r="1.8"/><circle cx="233.3" cy="1666.3" r="1.8"/><circle cx="280.8" cy="1667.6" r="1.8"/><circle cx="246.5" cy="1670.8" r="1.8"/><circle cx="217.2" cy="1670.8" r="1.8"/><circle cx="225.2" cy="1674.5" r="1.8"/><circle cx="249.6" cy="1675.0" r="1.8"/><circle cx="256.0" cy="1675.0" r="1.8"/><circle cx="278.9" cy="1675.0" r="1.8"/><circle cx="289.3" cy="1674.2" r="1.8"/><circle cx="278.5" cy="1677.1" r="1.8"/><circle cx="278.5" cy="1679.7" r="1.8"/><circle cx="211.5" cy="1674.2" r="1.8"/><circle cx="219.5" cy="1675.9" r="1.8"/><circle cx="212.7" cy="1677.6" r="1.8"/><circle cx="214.9" cy="1679.9" r="1.8"/><circle cx="220.6" cy="1681.0" r="1.8"/><circle cx="229.7" cy="1681.6" r="1.8"/><circle cx="233.1" cy="1681.6" r="1.8"/><circle cx="237.1" cy="1681.6" r="1.8"/><circle cx="241.0" cy="1678.8" r="1.8"/><circle cx="243.3" cy="1681.6" r="1.8"/><circle cx="252.6" cy="1682.5" r="1.8"/><circle cx="263.8" cy="1683.3" r="1.8"/><circle cx="266.6" cy="1687.9" r="1.8"/><circle cx="245.0" cy="1687.6" r="1.8"/><circle cx="256.4" cy="1689.9" r="1.8"/><circle cx="227.4" cy="1686.7" r="1.8"/><circle cx="222.9" cy="1688.4" r="1.8"/><circle cx="217.2" cy="1690.1" r="1.8"/><circle cx="234.2" cy="1690.1" r="1.8"/><circle cx="236.5" cy="1693.5" r="1.8"/><circle cx="237.6" cy="1695.8" r="1.8"/><circle cx="244.5" cy="1694.7" r="1.8"/><circle cx="277.4" cy="1688.4" r="1.8"/><circle cx="274.0" cy="1692.4" r="1.8"/><circle cx="285.3" cy="1688.4" r="1.8"/><circle cx="291.0" cy="1688.4" r="1.8"/><circle cx="280.8" cy="1695.2" r="1.8"/><circle cx="285.3" cy="1694.7" r="1.8"/><circle cx="289.9" cy="1695.2" r="1.8"/><circle cx="296.7" cy="1693.5" r="1.8"/><circle cx="300.1" cy="1695.8" r="1.8"/><circle cx="251.3" cy="1698.1" r="1.8"/><circle cx="230.8" cy="1698.7" r="1.8"/><circle cx="320.9" cy="1678.9" r="1.8"/><circle cx="319.5" cy="1687.7" r="1.8"/><circle cx="217.0" cy="1691.1" r="1.8"/><circle cx="222.7" cy="1690.6" r="1.8"/><circle cx="235.2" cy="1692.3" r="1.8"/><circle cx="236.3" cy="1695.1" r="1.8"/><circle cx="244.9" cy="1694.0" r="1.8"/><circle cx="250.0" cy="1699.1" r="1.8"/><circle cx="255.7" cy="1700.2" r="1.8"/><circle cx="273.8" cy="1692.8" r="1.8"/><circle cx="279.5" cy="1695.1" r="1.8"/><circle cx="286.3" cy="1695.1" r="1.8"/><circle cx="290.9" cy="1694.5" r="1.8"/><circle cx="296.5" cy="1694.5" r="1.8"/><circle cx="299.9" cy="1696.8" r="1.8"/><circle cx="229.5" cy="1699.7" r="1.8"/><circle cx="227.8" cy="1702.5" r="1.8"/><circle cx="226.7" cy="1705.3" r="1.8"/><circle cx="236.6" cy="1704.2" r="1.8"/><circle cx="252.0" cy="1707.0" r="1.8"/><circle cx="267.8" cy="1701.9" r="1.8"/><circle cx="283.5" cy="1702.5" r="1.8"/><circle cx="286.3" cy="1704.2" r="1.8"/><circle cx="275.0" cy="1707.0" r="1.8"/><circle cx="276.1" cy="1709.9" r="1.8"/><circle cx="215.9" cy="1709.1" r="1.8"/><circle cx="222.1" cy="1712.1" r="1.8"/><circle cx="228.4" cy="1710.4" r="1.8"/><circle cx="227.8" cy="1712.7" r="1.8"/><circle cx="259.1" cy="1711.0" r="1.8"/><circle cx="265.9" cy="1711.0" r="1.8"/><circle cx="268.7" cy="1711.0" r="1.8"/><circle cx="217.6" cy="1715.0" r="1.8"/><circle cx="247.7" cy="1714.1" r="1.8"/><circle cx="264.2" cy="1716.1" r="1.8"/><circle cx="276.3" cy="1720.1" r="1.8"/><circle cx="302.2" cy="1709.3" r="1.8"/><circle cx="313.6" cy="1700.2" r="1.8"/><circle cx="316.4" cy="1700.2" r="1.8"/><circle cx="310.2" cy="1706.5" r="1.8"/><circle cx="311.3" cy="1710.4" r="1.8"/><circle cx="311.3" cy="1712.7" r="1.8"/><circle cx="314.7" cy="1709.3" r="1.8"/><circle cx="318.1" cy="1709.3" r="1.8"/><circle cx="344.5" cy="1701.7" r="1.8"/><circle cx="336.1" cy="1712.1" r="1.8"/><circle cx="325.3" cy="1716.1" r="1.8"/><circle cx="330.4" cy="1720.9" r="1.8"/><circle cx="315.3" cy="1722.1" r="1.8"/><circle cx="373.8" cy="1715.2" r="1.8"/><circle cx="235.2" cy="1717.3" r="1.8"/><circle cx="234.1" cy="1719.5" r="1.8"/><circle cx="221.4" cy="1725.4" r="1.8"/><circle cx="227.8" cy="1727.5" r="1.8"/><circle cx="224.8" cy="1732.2" r="1.8"/><circle cx="238.6" cy="1724.1" r="1.8"/><circle cx="238.0" cy="1729.2" r="1.8"/><circle cx="245.4" cy="1729.8" r="1.8"/><circle cx="254.5" cy="1724.6" r="1.8"/><circle cx="258.5" cy="1726.1" r="1.8"/><circle cx="252.2" cy="1733.2" r="1.8"/><circle cx="255.7" cy="1731.8" r="1.8"/><circle cx="259.3" cy="1736.3" r="1.8"/><circle cx="296.5" cy="1730.3" r="1.8"/><circle cx="296.5" cy="1736.0" r="1.8"/><circle cx="299.4" cy="1736.0" r="1.8"/><circle cx="323.8" cy="1728.6" r="1.8"/><circle cx="322.7" cy="1730.9" r="1.8"/><circle cx="352.2" cy="1732.6" r="1.8"/><circle cx="341.4" cy="1736.0" r="1.8"/><circle cx="345.9" cy="1736.0" r="1.8"/><circle cx="353.3" cy="1736.0" r="1.8"/><circle cx="359.0" cy="1736.0" r="1.8"/><circle cx="336.3" cy="1740.0" r="1.8"/><circle cx="229.3" cy="1742.8" r="1.8"/><circle cx="237.8" cy="1742.0" r="1.8"/><circle cx="323.8" cy="1747.7" r="1.8"/><circle cx="366.9" cy="1748.8" r="1.8"/><circle cx="381.9" cy="1745.7" r="1.8"/><circle cx="380.9" cy="1753.0" r="1.8"/><circle cx="241.5" cy="1752.1" r="1.8"/><circle cx="304.5" cy="1753.6" r="1.8"/><circle cx="304.5" cy="1755.3" r="1.8"/><circle cx="239.8" cy="1761.0" r="1.8"/><circle cx="244.3" cy="1761.0" r="1.8"/><circle cx="248.3" cy="1761.0" r="1.8"/><circle cx="272.7" cy="1758.7" r="1.8"/><circle cx="276.7" cy="1755.3" r="1.8"/><circle cx="292.2" cy="1761.2" r="1.8"/><circle cx="304.3" cy="1765.0" r="1.8"/><circle cx="344.5" cy="1762.5" r="1.8"/><circle cx="349.9" cy="1761.0" r="1.8"/><circle cx="352.8" cy="1759.8" r="1.8"/><circle cx="238.6" cy="1765.5" r="1.8"/><circle cx="235.4" cy="1769.2" r="1.8"/><circle cx="247.1" cy="1771.2" r="1.8"/><circle cx="247.1" cy="1774.0" r="1.8"/><circle cx="338.3" cy="1770.1" r="1.8"/><circle cx="246.0" cy="1778.6" r="1.8"/><circle cx="247.7" cy="1782.0" r="1.8"/><circle cx="245.4" cy="1785.4" r="1.8"/><circle cx="244.3" cy="1787.7" r="1.8"/><circle cx="247.1" cy="1790.0" r="1.8"/><circle cx="232.7" cy="1788.0" r="1.8"/><circle cx="258.8" cy="1781.2" r="1.8"/><circle cx="274.4" cy="1782.8" r="1.8"/><circle cx="267.9" cy="1787.3" r="1.8"/><circle cx="281.5" cy="1788.6" r="1.8"/><circle cx="288.8" cy="1793.6" r="1.8"/><circle cx="333.8" cy="1784.0" r="1.8"/><circle cx="363.5" cy="1783.7" r="1.8"/><circle cx="365.8" cy="1786.5" r="1.8"/><circle cx="384.6" cy="1790.2" r="1.8"/><circle cx="396.3" cy="1796.8" r="1.8"/><circle cx="265.0" cy="1794.7" r="1.8"/><circle cx="259.1" cy="1796.2" r="1.8"/><circle cx="257.4" cy="1797.9" r="1.8"/><circle cx="252.8" cy="1799.6" r="1.8"/><circle cx="263.6" cy="1802.4" r="1.8"/><circle cx="267.0" cy="1801.9" r="1.8"/><circle cx="270.4" cy="1801.9" r="1.8"/><circle cx="280.4" cy="1799.3" r="1.8"/><circle cx="330.0" cy="1799.0" r="1.8"/><circle cx="342.0" cy="1795.6" r="1.8"/><circle cx="346.5" cy="1795.6" r="1.8"/><circle cx="354.2" cy="1800.4" r="1.8"/><circle cx="348.2" cy="1803.2" r="1.8"/><circle cx="349.7" cy="1808.1" r="1.8"/><circle cx="382.8" cy="1807.0" r="1.8"/><circle cx="248.8" cy="1810.4" r="1.8"/><circle cx="252.8" cy="1811.0" r="1.8"/><circle cx="263.8" cy="1812.7" r="1.8"/><circle cx="296.0" cy="1814.0" r="1.8"/><circle cx="321.0" cy="1815.5" r="1.8"/><circle cx="327.0" cy="1817.8" r="1.8"/><circle cx="331.2" cy="1820.6" r="1.8"/><circle cx="251.1" cy="1821.2" r="1.8"/><circle cx="263.0" cy="1821.7" r="1.8"/><circle cx="269.1" cy="1824.4" r="1.8"/><circle cx="277.6" cy="1824.4" r="1.8"/><circle cx="287.2" cy="1824.6" r="1.8"/><circle cx="311.9" cy="1826.3" r="1.8"/><circle cx="333.4" cy="1826.9" r="1.8"/><circle cx="340.8" cy="1828.6" r="1.8"/><circle cx="252.2" cy="1828.0" r="1.8"/><circle cx="255.7" cy="1828.0" r="1.8"/><circle cx="267.9" cy="1828.6" r="1.8"/><circle cx="282.9" cy="1829.5" r="1.8"/><circle cx="286.3" cy="1833.9" r="1.8"/><circle cx="254.5" cy="1835.4" r="1.8"/><circle cx="267.0" cy="1837.5" r="1.8"/><circle cx="273.6" cy="1839.2" r="1.8"/><circle cx="278.7" cy="1839.8" r="1.8"/><circle cx="292.2" cy="1839.8" r="1.8"/><circle cx="278.7" cy="1845.2" r="1.8"/><circle cx="271.3" cy="1851.7" r="1.8"/><circle cx="356.7" cy="1831.6" r="1.8"/><circle cx="372.9" cy="1833.0" r="1.8"/><circle cx="319.0" cy="1835.8" r="1.8"/><circle cx="325.5" cy="1836.9" r="1.8"/><circle cx="320.4" cy="1839.2" r="1.8"/><circle cx="321.3" cy="1841.8" r="1.8"/><circle cx="350.3" cy="1838.9" r="1.8"/><circle cx="321.5" cy="1848.3" r="1.8"/><circle cx="342.5" cy="1847.5" r="1.8"/><circle cx="330.6" cy="1855.9" r="1.8"/><circle cx="335.4" cy="1857.0" r="1.8"/><circle cx="280.6" cy="1860.4" r="1.8"/><circle cx="286.5" cy="1860.5" r="1.8"/><circle cx="263.8" cy="1866.1" r="1.8"/><circle cx="274.2" cy="1866.5" r="1.8"/><circle cx="313.6" cy="1865.9" r="1.8"/><circle cx="318.1" cy="1868.7" r="1.8"/><circle cx="320.4" cy="1867.6" r="1.8"/><circle cx="324.4" cy="1868.4" r="1.8"/><circle cx="315.6" cy="1875.0" r="1.8"/><circle cx="320.6" cy="1873.8" r="1.8"/><circle cx="323.2" cy="1878.4" r="1.8"/><circle cx="326.6" cy="1877.8" r="1.8"/><circle cx="333.1" cy="1878.9" r="1.8"/><circle cx="342.0" cy="1881.4" r="1.8"/><circle cx="275.5" cy="1878.9" r="1.8"/><circle cx="278.4" cy="1879.3" r="1.8"/><circle cx="319.3" cy="1887.7" r="1.8"/><circle cx="318.7" cy="1889.2" r="1.8"/><circle cx="282.0" cy="1893.4" r="1.8"/><circle cx="288.8" cy="1898.3" r="1.8"/><circle cx="264.2" cy="1902.0" r="1.8"/><circle cx="280.6" cy="1901.7" r="1.8"/><circle cx="294.6" cy="1902.6" r="1.8"/><circle cx="303.1" cy="1902.5" r="1.8"/><circle cx="310.2" cy="1897.1" r="1.8"/><circle cx="315.3" cy="1896.3" r="1.8"/><circle cx="318.1" cy="1894.3" r="1.8"/><circle cx="320.4" cy="1894.0" r="1.8"/><circle cx="324.6" cy="1898.3" r="1.8"/><circle cx="314.1" cy="1900.5" r="1.8"/><circle cx="320.2" cy="1904.5" r="1.8"/><circle cx="339.5" cy="1903.0" r="1.8"/><circle cx="287.2" cy="1908.1" r="1.8"/><circle cx="294.0" cy="1909.6" r="1.8"/><circle cx="307.3" cy="1908.5" r="1.8"/><circle cx="369.0" cy="1909.6" r="1.8"/><circle cx="408.1" cy="1905.4" r="1.8"/><circle cx="311.9" cy="1917.6" r="1.8"/><circle cx="317.5" cy="1919.0" r="1.8"/><circle cx="321.5" cy="1916.8" r="1.8"/><circle cx="325.5" cy="1916.8" r="1.8"/><circle cx="329.5" cy="1918.7" r="1.8"/><circle cx="338.0" cy="1919.3" r="1.8"/><circle cx="336.3" cy="1922.4" r="1.8"/><circle cx="315.8" cy="1922.7" r="1.8"/><circle cx="314.7" cy="1925.0" r="1.8"/><circle cx="321.0" cy="1923.8" r="1.8"/><circle cx="323.2" cy="1925.0" r="1.8"/><circle cx="324.9" cy="1927.8" r="1.8"/><circle cx="335.7" cy="1928.4" r="1.8"/><circle cx="351.1" cy="1922.9" r="1.8"/><circle cx="359.6" cy="1925.5" r="1.8"/><circle cx="353.3" cy="1927.8" r="1.8"/><circle cx="381.4" cy="1922.7" r="1.8"/><circle cx="286.1" cy="1925.0" r="1.8"/><circle cx="292.6" cy="1929.3" r="1.8"/><circle cx="297.4" cy="1931.2" r="1.8"/><circle cx="311.9" cy="1927.8" r="1.8"/><circle cx="313.6" cy="1930.1" r="1.8"/><circle cx="314.1" cy="1932.3" r="1.8"/><circle cx="327.8" cy="1929.5" r="1.8"/><circle cx="328.3" cy="1931.8" r="1.8"/><circle cx="334.0" cy="1932.3" r="1.8"/><circle cx="295.6" cy="1938.8" r="1.8"/><circle cx="311.9" cy="1938.9" r="1.8"/><circle cx="314.7" cy="1939.1" r="1.8"/><circle cx="319.0" cy="1937.7" r="1.8"/><circle cx="322.1" cy="1942.0" r="1.8"/><circle cx="324.9" cy="1943.1" r="1.8"/><circle cx="329.2" cy="1944.2" r="1.8"/><circle cx="328.9" cy="1948.2" r="1.8"/><circle cx="320.2" cy="1947.1" r="1.8"/><circle cx="345.6" cy="1945.6" r="1.8"/><circle cx="369.0" cy="1945.6" r="1.8"/><circle cx="396.3" cy="1945.4" r="1.8"/><circle cx="296.3" cy="1947.9" r="1.8"/><circle cx="303.4" cy="1952.2" r="1.8"/><circle cx="309.6" cy="1946.5" r="1.8"/><circle cx="312.4" cy="1944.2" r="1.8"/><circle cx="314.7" cy="1946.5" r="1.8"/><circle cx="311.3" cy="1949.9" r="1.8"/><circle cx="313.0" cy="1952.2" r="1.8"/><circle cx="319.3" cy="1953.3" r="1.8"/><circle cx="321.5" cy="1953.9" r="1.8"/><circle cx="311.9" cy="1955.6" r="1.8"/><circle cx="314.7" cy="1956.7" r="1.8"/><circle cx="292.2" cy="1957.7" r="1.8"/><circle cx="299.9" cy="1959.4" r="1.8"/><circle cx="305.6" cy="1956.7" r="1.8"/><circle cx="304.5" cy="1963.0" r="1.8"/><circle cx="309.0" cy="1961.3" r="1.8"/><circle cx="313.6" cy="1960.7" r="1.8"/><circle cx="327.2" cy="1960.2" r="1.8"/><circle cx="328.9" cy="1960.2" r="1.8"/><circle cx="345.6" cy="1960.4" r="1.8"/><circle cx="378.3" cy="1964.7" r="1.8"/><circle cx="382.9" cy="1963.0" r="1.8"/><circle cx="463.4" cy="1879.7" r="1.8"/><circle cx="503.4" cy="1892.4" r="1.8"/><circle cx="383.3" cy="1789.9" r="1.8"/><circle cx="306.6" cy="1942.5" r="1.8"/><circle cx="311.5" cy="1960.7" r="1.8"/><circle cx="314.2" cy="1947.0" r="1.8"/><circle cx="309.2" cy="1950.2" r="1.8"/><circle cx="308.7" cy="1944.8" r="1.8"/><circle cx="303.9" cy="1943.0" r="1.8"/><circle cx="317.5" cy="1938.7" r="1.8"/><circle cx="310.6" cy="1953.3" r="1.8"/><circle cx="315.9" cy="1941.3" r="1.8"/><circle cx="307.1" cy="1942.2" r="1.8"/><circle cx="309.0" cy="1947.9" r="1.8"/><circle cx="317.3" cy="1959.6" r="1.8"/><circle cx="316.1" cy="1935.6" r="1.8"/><circle cx="303.5" cy="1955.6" r="1.8"/><circle cx="316.4" cy="1948.7" r="1.8"/><circle cx="311.8" cy="1935.0" r="1.8"/><circle cx="308.9" cy="1961.9" r="1.8"/><circle cx="315.4" cy="1959.8" r="1.8"/><circle cx="317.6" cy="1942.2" r="1.8"/><circle cx="304.6" cy="1939.5" r="1.8"/><circle cx="310.8" cy="1954.8" r="1.8"/><circle cx="317.1" cy="1955.9" r="1.8"/><circle cx="312.7" cy="1957.2" r="1.8"/><circle cx="309.9" cy="1951.0" r="1.8"/><circle cx="303.6" cy="1957.7" r="1.8"/></g><g fill="#d3262b" stroke="#951a1e" stroke-width="1.1"><circle cx="181.4" cy="1546.5" r="2.5"/><circle cx="157.0" cy="1561.8" r="2.5"/><circle cx="170.3" cy="1560.4" r="2.5"/><circle cx="191.6" cy="1566.3" r="2.5"/><circle cx="162.9" cy="1591.9" r="2.5"/><circle cx="163.6" cy="1597.6" r="2.5"/><circle cx="187.1" cy="1597.6" r="2.5"/><circle cx="184.0" cy="1611.2" r="2.5"/><circle cx="202.2" cy="1616.3" r="2.5"/><circle cx="204.1" cy="1623.7" r="2.5"/><circle cx="204.5" cy="1627.7" r="2.5"/><circle cx="157.0" cy="1629.7" r="2.5"/><circle cx="172.9" cy="1627.4" r="2.5"/><circle cx="180.1" cy="1626.5" r="2.5"/><circle cx="182.0" cy="1627.1" r="2.5"/><circle cx="170.1" cy="1641.1" r="2.5"/><circle cx="201.9" cy="1641.9" r="2.5"/><circle cx="180.5" cy="1646.8" r="2.5"/><circle cx="188.2" cy="1645.8" r="2.5"/><circle cx="206.1" cy="1647.3" r="2.5"/><circle cx="146.0" cy="1655.5" r="2.5"/><circle cx="182.6" cy="1658.9" r="2.5"/><circle cx="193.1" cy="1659.8" r="2.5"/><circle cx="200.2" cy="1657.8" r="2.5"/><circle cx="185.2" cy="1664.9" r="2.5"/><circle cx="162.7" cy="1666.9" r="2.5"/><circle cx="161.6" cy="1669.7" r="2.5"/><circle cx="180.0" cy="1670.8" r="2.5"/><circle cx="197.3" cy="1666.3" r="2.5"/><circle cx="200.7" cy="1666.9" r="2.5"/><circle cx="197.9" cy="1670.3" r="2.5"/><circle cx="201.3" cy="1672.0" r="2.5"/><circle cx="203.6" cy="1674.2" r="2.5"/><circle cx="205.8" cy="1676.5" r="2.5"/><circle cx="207.5" cy="1675.4" r="2.5"/><circle cx="192.8" cy="1679.3" r="2.5"/><circle cx="200.2" cy="1678.8" r="2.5"/><circle cx="199.6" cy="1683.3" r="2.5"/><circle cx="175.7" cy="1684.5" r="2.5"/><circle cx="178.0" cy="1685.8" r="2.5"/><circle cx="189.6" cy="1688.2" r="2.5"/><circle cx="208.5" cy="1687.9" r="2.5"/><circle cx="206.4" cy="1694.7" r="2.5"/><circle cx="410.1" cy="1770.9" r="2.5"/><circle cx="413.5" cy="1805.3" r="2.5"/><circle cx="471.8" cy="1774.1" r="2.5"/></g><rect x="91.7" y="1537.7" width="431.2" height="427.7" fill="none" stroke="#111" stroke-width="2"/><line x1="88.2" y1="1965.4" x2="91.7" y2="1965.4" stroke="#111" stroke-width="1.5"/><text x="83.9" y="1973.3" font-size="24.5" text-anchor="end">0</text><line x1="88.2" y1="1877.1" x2="91.7" y2="1877.1" stroke="#111" stroke-width="1.5"/><text x="83.9" y="1885.0" font-size="24.5" text-anchor="end">1</text><line x1="88.2" y1="1788.8" x2="91.7" y2="1788.8" stroke="#111" stroke-width="1.5"/><text x="83.9" y="1796.7" font-size="24.5" text-anchor="end">2</text><line x1="88.2" y1="1700.5" x2="91.7" y2="1700.5" stroke="#111" stroke-width="1.5"/><text x="83.9" y="1708.4" font-size="24.5" text-anchor="end">3</text><line x1="88.2" y1="1612.2" x2="91.7" y2="1612.2" stroke="#111" stroke-width="1.5"/><text x="83.9" y="1620.1" font-size="24.5" text-anchor="end">4</text><line x1="109.8" y1="1965.4" x2="109.8" y2="1968.9" stroke="#111" stroke-width="1.5"/><text x="108.8" y="1991.3" font-size="24.5" text-anchor="middle">-2</text><line x1="208.6" y1="1965.4" x2="208.6" y2="1968.9" stroke="#111" stroke-width="1.5"/><text x="207.6" y="1991.3" font-size="24.5" text-anchor="middle">-1</text><line x1="307.4" y1="1965.4" x2="307.4" y2="1968.9" stroke="#111" stroke-width="1.5"/><text x="307.7" y="1991.3" font-size="24.5" text-anchor="middle">0</text><line x1="406.2" y1="1965.4" x2="406.2" y2="1968.9" stroke="#111" stroke-width="1.5"/><text x="406.5" y="1991.3" font-size="24.5" text-anchor="middle">1</text><line x1="505.0" y1="1965.4" x2="505.0" y2="1968.9" stroke="#111" stroke-width="1.5"/><text x="505.3" y="1991.3" font-size="24.5" text-anchor="middle">2</text><text x="208.6" y="2026.0" font-size="26.5" textLength="199.8" lengthAdjust="spacingAndGlyphs">Log2 fold-change</text><text x="0.0" y="0.0" font-size="27.0" textLength="137.5" lengthAdjust="spacingAndGlyphs" transform="translate(53.7,1823.6) rotate(-90)">-Log10 p-val</text><text x="592.5" y="827.2" font-size="44" textLength="33.6" lengthAdjust="spacingAndGlyphs" font-weight="bold">D</text><text x="721.6" y="854.3" font-size="31" textLength="97.8" lengthAdjust="spacingAndGlyphs">Species</text><text x="902.8" y="884.9" font-size="26" textLength="32.2" lengthAdjust="spacingAndGlyphs">US</text><text x="990.6" y="884.9" font-size="26" textLength="103.2" lengthAdjust="spacingAndGlyphs">Germany</text><line x1="892.7" y1="897.0" x2="938.1" y2="897.0" stroke="#111" stroke-width="1.5"/><path d="M887.7,897.0 L895.5,893.1 L893.7,897.0 L895.5,900.9 Z" fill="#111"/><line x1="1010.4" y1="897.0" x2="1055.8" y2="897.0" stroke="#111" stroke-width="1.5"/><path d="M1060.8,897.0 L1053.0,893.1 L1054.8,897.0 L1053.0,900.9 Z" fill="#111"/><rect x="975.1" y="930.3" width="114.3" height="44.7" fill="#2c6ea6"/><line x1="843.0" y1="952.6" x2="846.5" y2="952.6" stroke="#111" stroke-width="1.3"/><rect x="975.1" y="987.5" width="77.3" height="44.7" fill="#2c6ea6"/><line x1="843.0" y1="1009.9" x2="846.5" y2="1009.9" stroke="#111" stroke-width="1.3"/><rect x="975.1" y="1044.6" width="66.2" height="44.7" fill="#2c6ea6"/><line x1="843.0" y1="1066.9" x2="846.5" y2="1066.9" stroke="#111" stroke-width="1.3"/><rect x="975.1" y="1101.8" width="58.1" height="44.7" fill="#2c6ea6"/><line x1="843.0" y1="1124.1" x2="846.5" y2="1124.1" stroke="#111" stroke-width="1.3"/><rect x="975.1" y="1159.0" width="57.5" height="44.7" fill="#2c6ea6"/><line x1="843.0" y1="1181.3" x2="846.5" y2="1181.3" stroke="#111" stroke-width="1.3"/><rect x="975.1" y="1216.1" width="38.0" height="44.7" fill="#2c6ea6"/><line x1="843.0" y1="1238.4" x2="846.5" y2="1238.4" stroke="#111" stroke-width="1.3"/><rect x="858.4" y="1273.3" width="116.7" height="44.7" fill="#2c6ea6"/><line x1="843.0" y1="1295.6" x2="846.5" y2="1295.6" stroke="#111" stroke-width="1.3"/><line x1="975.1" y1="917.0" x2="975.1" y2="1338.2" stroke="#111" stroke-width="2.0" stroke-dasharray="4 7.7"/><rect x="846.5" y="910.2" width="254.7" height="428.0" fill="none" stroke="#111" stroke-width="2"/><line x1="868.6" y1="1338.2" x2="868.6" y2="1340.4" stroke="#222" stroke-width="1.3"/><text x="867.1" y="1362.3" font-size="24.5" text-anchor="middle">-3</text><line x1="904.1" y1="1338.2" x2="904.1" y2="1340.4" stroke="#222" stroke-width="1.3"/><text x="902.6" y="1362.3" font-size="24.5" text-anchor="middle">-2</text><line x1="939.6" y1="1338.2" x2="939.6" y2="1340.4" stroke="#222" stroke-width="1.3"/><text x="938.1" y="1362.3" font-size="24.5" text-anchor="middle">-1</text><line x1="975.1" y1="1338.2" x2="975.1" y2="1340.4" stroke="#222" stroke-width="1.3"/><text x="975.1" y="1362.3" font-size="24.5" text-anchor="middle">0</text><line x1="1010.6" y1="1338.2" x2="1010.6" y2="1340.4" stroke="#222" stroke-width="1.3"/><text x="1010.6" y="1362.3" font-size="24.5" text-anchor="middle">1</text><line x1="1046.1" y1="1338.2" x2="1046.1" y2="1340.4" stroke="#222" stroke-width="1.3"/><text x="1046.1" y="1362.3" font-size="24.5" text-anchor="middle">2</text><line x1="1081.6" y1="1338.2" x2="1081.6" y2="1340.4" stroke="#222" stroke-width="1.3"/><text x="1081.6" y="1362.3" font-size="24.5" text-anchor="middle">3</text><text x="866.8" y="1396.0" font-size="29" textLength="227.8" lengthAdjust="spacingAndGlyphs">Log2 fold-change</text><text x="601.6" y="959.7" font-size="19" textLength="237.4" lengthAdjust="spacingAndGlyphs">Streptococcus thermophilus</text><text x="631.4" y="1015.4" font-size="19" textLength="207.7" lengthAdjust="spacingAndGlyphs">Lactobacillus rhamnosus</text><text x="651.7" y="1071.7" font-size="19" textLength="187.9" lengthAdjust="spacingAndGlyphs">Clostridium innocuum</text><text x="655.1" y="1128.3" font-size="19" textLength="184.5" lengthAdjust="spacingAndGlyphs">Enterococcus faecium</text><text x="621.2" y="1185.2" font-size="19" textLength="217.9" lengthAdjust="spacingAndGlyphs">Ruminococcus bicirculans</text><text x="700.6" y="1243.4" font-size="19" textLength="138.7" lengthAdjust="spacingAndGlyphs">Blautia wexlerae</text><text x="647.4" y="1299.5" font-size="19" textLength="191.9" lengthAdjust="spacingAndGlyphs">Klebsiella pneumoniae</text><text x="1380.0" y="853.4" font-size="31" textLength="123.0" lengthAdjust="spacingAndGlyphs">Pathways</text><text x="1819.5" y="879.3" font-size="26" textLength="32.2" lengthAdjust="spacingAndGlyphs">US</text><text x="1906.4" y="879.3" font-size="26" textLength="104.4" lengthAdjust="spacingAndGlyphs">Germany</text><line x1="1809.0" y1="888.1" x2="1854.3" y2="888.1" stroke="#111" stroke-width="1.5"/><path d="M1804.0,888.1 L1811.8,884.2 L1810.0,888.1 L1811.8,892.0 Z" fill="#111"/><line x1="1927.0" y1="888.1" x2="1972.8" y2="888.1" stroke="#111" stroke-width="1.5"/><path d="M1977.8,888.1 L1970.0,884.2 L1971.8,888.1 L1970.0,892.0 Z" fill="#111"/><rect x="1894.8" y="922.3" width="246.8" height="16.9" fill="#2c6ea6"/><line x1="1623.8" y1="930.8" x2="1627.8" y2="930.8" stroke="#111" stroke-width="1.3"/><rect x="1894.8" y="944.7" width="159.7" height="16.9" fill="#2c6ea6"/><line x1="1623.8" y1="953.1" x2="1627.8" y2="953.1" stroke="#111" stroke-width="1.3"/><rect x="1894.8" y="967.1" width="155.1" height="16.9" fill="#2c6ea6"/><line x1="1623.8" y1="975.5" x2="1627.8" y2="975.5" stroke="#111" stroke-width="1.3"/><rect x="1746.0" y="989.5" width="148.8" height="16.9" fill="#2c6ea6"/><line x1="1623.8" y1="997.9" x2="1627.8" y2="997.9" stroke="#111" stroke-width="1.3"/><rect x="1746.0" y="1011.8" width="148.8" height="16.9" fill="#2c6ea6"/><line x1="1623.8" y1="1020.3" x2="1627.8" y2="1020.3" stroke="#111" stroke-width="1.3"/><rect x="1743.1" y="1034.2" width="151.7" height="16.9" fill="#2c6ea6"/><line x1="1623.8" y1="1042.7" x2="1627.8" y2="1042.7" stroke="#111" stroke-width="1.3"/><rect x="1742.5" y="1056.6" width="152.3" height="16.9" fill="#2c6ea6"/><line x1="1623.8" y1="1065.1" x2="1627.8" y2="1065.1" stroke="#111" stroke-width="1.3"/><rect x="1740.8" y="1079.0" width="154.0" height="16.9" fill="#2c6ea6"/><line x1="1623.8" y1="1087.5" x2="1627.8" y2="1087.5" stroke="#111" stroke-width="1.3"/><rect x="1740.8" y="1101.4" width="154.0" height="16.9" fill="#2c6ea6"/><line x1="1623.8" y1="1109.8" x2="1627.8" y2="1109.8" stroke="#111" stroke-width="1.3"/><rect x="1739.9" y="1123.8" width="154.9" height="16.9" fill="#2c6ea6"/><line x1="1623.8" y1="1132.2" x2="1627.8" y2="1132.2" stroke="#111" stroke-width="1.3"/><rect x="1739.0" y="1146.2" width="155.8" height="16.9" fill="#2c6ea6"/><line x1="1623.8" y1="1154.6" x2="1627.8" y2="1154.6" stroke="#111" stroke-width="1.3"/><rect x="1737.0" y="1168.5" width="157.8" height="16.9" fill="#2c6ea6"/><line x1="1623.8" y1="1177.0" x2="1627.8" y2="1177.0" stroke="#111" stroke-width="1.3"/><rect x="1736.7" y="1190.9" width="158.1" height="16.9" fill="#2c6ea6"/><line x1="1623.8" y1="1199.4" x2="1627.8" y2="1199.4" stroke="#111" stroke-width="1.3"/><rect x="1736.2" y="1213.3" width="158.6" height="16.9" fill="#2c6ea6"/><line x1="1623.8" y1="1221.8" x2="1627.8" y2="1221.8" stroke="#111" stroke-width="1.3"/><rect x="1735.9" y="1235.7" width="158.9" height="16.9" fill="#2c6ea6"/><line x1="1623.8" y1="1244.2" x2="1627.8" y2="1244.2" stroke="#111" stroke-width="1.3"/><rect x="1734.3" y="1258.1" width="160.5" height="16.9" fill="#2c6ea6"/><line x1="1623.8" y1="1266.5" x2="1627.8" y2="1266.5" stroke="#111" stroke-width="1.3"/><rect x="1734.0" y="1280.5" width="160.8" height="16.9" fill="#2c6ea6"/><line x1="1623.8" y1="1288.9" x2="1627.8" y2="1288.9" stroke="#111" stroke-width="1.3"/><rect x="1734.0" y="1302.9" width="160.8" height="16.9" fill="#2c6ea6"/><line x1="1623.8" y1="1311.3" x2="1627.8" y2="1311.3" stroke="#111" stroke-width="1.3"/><rect x="1733.5" y="1325.2" width="161.3" height="16.9" fill="#2c6ea6"/><line x1="1623.8" y1="1333.7" x2="1627.8" y2="1333.7" stroke="#111" stroke-width="1.3"/><rect x="1730.0" y="1347.6" width="164.8" height="16.9" fill="#2c6ea6"/><line x1="1623.8" y1="1356.1" x2="1627.8" y2="1356.1" stroke="#111" stroke-width="1.3"/><rect x="1729.1" y="1370.0" width="165.7" height="16.9" fill="#2c6ea6"/><line x1="1623.8" y1="1378.5" x2="1627.8" y2="1378.5" stroke="#111" stroke-width="1.3"/><rect x="1723.2" y="1392.4" width="171.6" height="16.9" fill="#2c6ea6"/><line x1="1623.8" y1="1400.9" x2="1627.8" y2="1400.9" stroke="#111" stroke-width="1.3"/><rect x="1722.2" y="1414.8" width="172.6" height="16.9" fill="#2c6ea6"/><line x1="1623.8" y1="1423.2" x2="1627.8" y2="1423.2" stroke="#111" stroke-width="1.3"/><rect x="1720.7" y="1437.2" width="174.1" height="16.9" fill="#2c6ea6"/><line x1="1623.8" y1="1445.6" x2="1627.8" y2="1445.6" stroke="#111" stroke-width="1.3"/><rect x="1717.9" y="1459.6" width="176.9" height="16.9" fill="#2c6ea6"/><line x1="1623.8" y1="1468.0" x2="1627.8" y2="1468.0" stroke="#111" stroke-width="1.3"/><rect x="1715.6" y="1481.9" width="179.2" height="16.9" fill="#2c6ea6"/><line x1="1623.8" y1="1490.4" x2="1627.8" y2="1490.4" stroke="#111" stroke-width="1.3"/><rect x="1715.6" y="1504.3" width="179.2" height="16.9" fill="#2c6ea6"/><line x1="1623.8" y1="1512.8" x2="1627.8" y2="1512.8" stroke="#111" stroke-width="1.3"/><rect x="1714.1" y="1526.7" width="180.7" height="16.9" fill="#2c6ea6"/><line x1="1623.8" y1="1535.2" x2="1627.8" y2="1535.2" stroke="#111" stroke-width="1.3"/><rect x="1711.2" y="1549.1" width="183.6" height="16.9" fill="#2c6ea6"/><line x1="1623.8" y1="1557.6" x2="1627.8" y2="1557.6" stroke="#111" stroke-width="1.3"/><rect x="1709.4" y="1571.5" width="185.4" height="16.9" fill="#2c6ea6"/><line x1="1623.8" y1="1579.9" x2="1627.8" y2="1579.9" stroke="#111" stroke-width="1.3"/><rect x="1707.4" y="1593.9" width="187.4" height="16.9" fill="#2c6ea6"/><line x1="1623.8" y1="1602.3" x2="1627.8" y2="1602.3" stroke="#111" stroke-width="1.3"/><rect x="1706.0" y="1616.3" width="188.8" height="16.9" fill="#2c6ea6"/><line x1="1623.8" y1="1624.7" x2="1627.8" y2="1624.7" stroke="#111" stroke-width="1.3"/><rect x="1705.6" y="1638.7" width="189.2" height="16.9" fill="#2c6ea6"/><line x1="1623.8" y1="1647.1" x2="1627.8" y2="1647.1" stroke="#111" stroke-width="1.3"/><rect x="1704.1" y="1661.0" width="190.7" height="16.9" fill="#2c6ea6"/><line x1="1623.8" y1="1669.5" x2="1627.8" y2="1669.5" stroke="#111" stroke-width="1.3"/><rect x="1703.8" y="1683.4" width="191.0" height="16.9" fill="#2c6ea6"/><line x1="1623.8" y1="1691.9" x2="1627.8" y2="1691.9" stroke="#111" stroke-width="1.3"/><rect x="1703.3" y="1705.8" width="191.5" height="16.9" fill="#2c6ea6"/><line x1="1623.8" y1="1714.3" x2="1627.8" y2="1714.3" stroke="#111" stroke-width="1.3"/><rect x="1699.9" y="1728.2" width="194.9" height="16.9" fill="#2c6ea6"/><line x1="1623.8" y1="1736.6" x2="1627.8" y2="1736.6" stroke="#111" stroke-width="1.3"/><rect x="1696.9" y="1750.6" width="197.9" height="16.9" fill="#2c6ea6"/><line x1="1623.8" y1="1759.0" x2="1627.8" y2="1759.0" stroke="#111" stroke-width="1.3"/><rect x="1692.6" y="1773.0" width="202.2" height="16.9" fill="#2c6ea6"/><line x1="1623.8" y1="1781.4" x2="1627.8" y2="1781.4" stroke="#111" stroke-width="1.3"/><rect x="1688.5" y="1795.4" width="206.3" height="16.9" fill="#2c6ea6"/><line x1="1623.8" y1="1803.8" x2="1627.8" y2="1803.8" stroke="#111" stroke-width="1.3"/><rect x="1688.2" y="1817.7" width="206.6" height="16.9" fill="#2c6ea6"/><line x1="1623.8" y1="1826.2" x2="1627.8" y2="1826.2" stroke="#111" stroke-width="1.3"/><rect x="1688.2" y="1840.1" width="206.6" height="16.9" fill="#2c6ea6"/><line x1="1623.8" y1="1848.6" x2="1627.8" y2="1848.6" stroke="#111" stroke-width="1.3"/><rect x="1688.2" y="1862.5" width="206.6" height="16.9" fill="#2c6ea6"/><line x1="1623.8" y1="1871.0" x2="1627.8" y2="1871.0" stroke="#111" stroke-width="1.3"/><rect x="1678.5" y="1884.9" width="216.3" height="16.9" fill="#2c6ea6"/><line x1="1623.8" y1="1893.3" x2="1627.8" y2="1893.3" stroke="#111" stroke-width="1.3"/><rect x="1677.8" y="1907.3" width="217.0" height="16.9" fill="#2c6ea6"/><line x1="1623.8" y1="1915.7" x2="1627.8" y2="1915.7" stroke="#111" stroke-width="1.3"/><rect x="1677.4" y="1929.7" width="217.4" height="16.9" fill="#2c6ea6"/><line x1="1623.8" y1="1938.1" x2="1627.8" y2="1938.1" stroke="#111" stroke-width="1.3"/><rect x="1675.9" y="1952.1" width="218.9" height="16.9" fill="#2c6ea6"/><line x1="1623.8" y1="1960.5" x2="1627.8" y2="1960.5" stroke="#111" stroke-width="1.3"/><rect x="1668.4" y="1974.4" width="226.4" height="16.9" fill="#2c6ea6"/><line x1="1623.8" y1="1982.9" x2="1627.8" y2="1982.9" stroke="#111" stroke-width="1.3"/><rect x="1668.3" y="1996.8" width="226.5" height="16.9" fill="#2c6ea6"/><line x1="1623.8" y1="2005.3" x2="1627.8" y2="2005.3" stroke="#111" stroke-width="1.3"/><rect x="1652.2" y="2019.2" width="242.6" height="16.9" fill="#2c6ea6"/><line x1="1623.8" y1="2027.7" x2="1627.8" y2="2027.7" stroke="#111" stroke-width="1.3"/><line x1="1894.8" y1="906.0" x2="1894.8" y2="2053.9" stroke="#1a1a1a" stroke-width="1.6" stroke-dasharray="3.2 8.4"/><rect x="1627.8" y="904.1" width="538.2" height="1149.8" fill="none" stroke="#111" stroke-width="2"/><line x1="1671.3" y1="2053.9" x2="1671.3" y2="2056.4" stroke="#222" stroke-width="1.3"/><text x="1672.3" y="2086.0" font-size="24.5" text-anchor="middle">-1.5</text><line x1="1745.8" y1="2053.9" x2="1745.8" y2="2056.4" stroke="#222" stroke-width="1.3"/><text x="1746.8" y="2086.0" font-size="24.5" text-anchor="middle">-1.0</text><line x1="1820.3" y1="2053.9" x2="1820.3" y2="2056.4" stroke="#222" stroke-width="1.3"/><text x="1821.3" y="2086.0" font-size="24.5" text-anchor="middle">-0.5</text><line x1="1894.8" y1="2053.9" x2="1894.8" y2="2056.4" stroke="#222" stroke-width="1.3"/><text x="1895.1" y="2086.0" font-size="24.5" text-anchor="middle">0</text><line x1="1969.3" y1="2053.9" x2="1969.3" y2="2056.4" stroke="#222" stroke-width="1.3"/><text x="1969.6" y="2086.0" font-size="24.5" text-anchor="middle">0.5</text><line x1="2043.8" y1="2053.9" x2="2043.8" y2="2056.4" stroke="#222" stroke-width="1.3"/><text x="2044.1" y="2086.0" font-size="24.5" text-anchor="middle">1.0</text><line x1="2118.3" y1="2053.9" x2="2118.3" y2="2056.4" stroke="#222" stroke-width="1.3"/><text x="2118.6" y="2086.0" font-size="24.5" text-anchor="middle">1.5</text><text x="1778.0" y="2122.7" font-size="28" textLength="229.5" lengthAdjust="spacingAndGlyphs">Log2 fold-change</text><text x="1352.9" y="936.2" font-size="18.2" textLength="265.8" lengthAdjust="spacingAndGlyphs">PWY-6953: D-galactose biosynth.</text><text x="1250.0" y="958.7" font-size="18.2" textLength="368.8" lengthAdjust="spacingAndGlyphs">PWY-7316: dTDP-N-acetylviosamine biosynth.</text><text x="1420.7" y="981.1" font-size="18.2" textLength="196.8" lengthAdjust="spacingAndGlyphs">METHANOGENESIS-PWY</text><text x="1325.8" y="1003.6" font-size="18.2" textLength="293.1" lengthAdjust="spacingAndGlyphs">PWY-5850: menaquinol-6 biosynth. I</text><text x="1323.8" y="1026.0" font-size="18.2" textLength="294.9" lengthAdjust="spacingAndGlyphs">PWY-5896: menaquinol-10 biosynth.</text><text x="1331.4" y="1048.5" font-size="18.2" textLength="285.7" lengthAdjust="spacingAndGlyphs">PWY0-781: aspartate superpathway</text><text x="1302.7" y="1070.9" font-size="18.2" textLength="316.1" lengthAdjust="spacingAndGlyphs">P164-PWY: purine nucleobases degrad.</text><text x="1262.5" y="1093.4" font-size="18.2" textLength="356.2" lengthAdjust="spacingAndGlyphs">ECASYN-PWY: enterobact. antigen biosynth.</text><text x="1370.4" y="1115.8" font-size="18.2" textLength="248.4" lengthAdjust="spacingAndGlyphs">PWY-6285: Fatty acid biosynth.</text><text x="1345.3" y="1138.2" font-size="18.2" textLength="273.0" lengthAdjust="spacingAndGlyphs">P161-PWY: acetylene degradation</text><text x="1279.3" y="1160.7" font-size="18.2" textLength="339.5" lengthAdjust="spacingAndGlyphs">PWY-6143: CMP-pseudoaminate biosynth.</text><text x="1348.7" y="1183.2" font-size="18.2" textLength="269.2" lengthAdjust="spacingAndGlyphs">GLYCOLYSIS-TCA-GLYOX-BYPASS</text><text x="1436.5" y="1205.6" font-size="18.2" textLength="182.1" lengthAdjust="spacingAndGlyphs">PWY-5690: TCA cycle II</text><text x="1336.1" y="1228.0" font-size="18.2" textLength="281.7" lengthAdjust="spacingAndGlyphs">PWY-5173: acetyl-CoA biosynthesis</text><text x="1412.8" y="1250.5" font-size="18.2" textLength="204.4" lengthAdjust="spacingAndGlyphs">PWY-5723: Rubisco shunt</text><text x="1509.1" y="1273.0" font-size="18.2" textLength="108.4" lengthAdjust="spacingAndGlyphs">FOLSYN-PWY</text><text x="1213.7" y="1295.4" font-size="18.2" textLength="405.1" lengthAdjust="spacingAndGlyphs">PWY-7268: NAD/NADPH cytosolic interconversion.</text><text x="1165.5" y="1317.8" font-size="18.2" textLength="452.4" lengthAdjust="spacingAndGlyphs">PWY-5464: cytosolic glycolysis, pyruvate dehydrogenase</text><text x="1299.3" y="1340.3" font-size="18.2" textLength="318.9" lengthAdjust="spacingAndGlyphs">GOLPDLCAT-PWY: glycerol degradation</text><text x="1532.4" y="1362.8" font-size="18.2" textLength="86.3" lengthAdjust="spacingAndGlyphs">TCA cycle I</text><text x="1347.3" y="1385.2" font-size="18.2" textLength="270.6" lengthAdjust="spacingAndGlyphs">PWY0-1338: polymyxin resistance</text><text x="1425.3" y="1407.7" font-size="18.2" textLength="193.4" lengthAdjust="spacingAndGlyphs">PWY-7254: TCA cycle VII</text><text x="1256.9" y="1430.1" font-size="18.2" textLength="361.9" lengthAdjust="spacingAndGlyphs">PWY-5861: demethylmenaquinol-8 biosynth.</text><text x="1508.0" y="1452.6" font-size="18.2" textLength="109.5" lengthAdjust="spacingAndGlyphs">FUCCAT-PWY</text><text x="1281.2" y="1475.0" font-size="18.2" textLength="337.1" lengthAdjust="spacingAndGlyphs">PWY-7013: L1,2- propanediol degradation</text><text x="1350.9" y="1497.5" font-size="18.2" textLength="267.9" lengthAdjust="spacingAndGlyphs">PWY-5791: napthoate biosynth. II</text><text x="1355.6" y="1519.9" font-size="18.2" textLength="263.2" lengthAdjust="spacingAndGlyphs">PWY-5837: napthoate biosynth. I</text><text x="1433.2" y="1542.3" font-size="18.2" textLength="185.4" lengthAdjust="spacingAndGlyphs">HEME-BIOSYNTHESIS-II</text><text x="1215.6" y="1564.8" font-size="18.2" textLength="403.2" lengthAdjust="spacingAndGlyphs">P108-PWY: pyruvate fermentation to propanoate I</text><text x="1329.9" y="1587.2" font-size="18.2" textLength="288.4" lengthAdjust="spacingAndGlyphs">PWY-5138: fatty acid beta-oxidation</text><text x="1290.4" y="1609.7" font-size="18.2" textLength="328.4" lengthAdjust="spacingAndGlyphs">P441-PWY: N-acetylneuraminate degrad.</text><text x="1208.2" y="1632.2" font-size="18.2" textLength="410.6" lengthAdjust="spacingAndGlyphs">PRPP-PWY: histidine, purine &amp; pyrimidine biosynth.</text><text x="1338.4" y="1654.6" font-size="18.2" textLength="280.3" lengthAdjust="spacingAndGlyphs">SO4ASSIM-PWY: sulfate reduction I</text><text x="1249.8" y="1677.1" font-size="18.2" textLength="367.7" lengthAdjust="spacingAndGlyphs">PROTOCATECHUATE-ORTHO-CLEAVAGE-PWY</text><text x="1125.6" y="1699.5" font-size="18.2" textLength="493.2" lengthAdjust="spacingAndGlyphs">PWY0-1241: ADP-L-glycero-beta-D-manno-heptose biosynth.</text><text x="1325.8" y="1722.0" font-size="18.2" textLength="293.1" lengthAdjust="spacingAndGlyphs">PWY-5838: menaquinol-8 biosynth. I</text><text x="1278.4" y="1744.4" font-size="18.2" textLength="339.9" lengthAdjust="spacingAndGlyphs">PWY-7345: anaerobic sucrose degradation</text><text x="1386.6" y="1766.8" font-size="18.2" textLength="232.1" lengthAdjust="spacingAndGlyphs">PWY-3801: sucrose degrad. II</text><text x="1318.8" y="1789.3" font-size="18.2" textLength="300.0" lengthAdjust="spacingAndGlyphs">PWY-821: sulfur amino acid biosynth.</text><text x="1176.7" y="1811.8" font-size="18.2" textLength="442.0" lengthAdjust="spacingAndGlyphs">SULFATE-CYS-PWY: sulfate assimil. &amp; cysteine biosynth.</text><text x="1323.8" y="1834.2" font-size="18.2" textLength="294.9" lengthAdjust="spacingAndGlyphs">PWY-5898: menaquinol-12 biosynth.</text><text x="1323.8" y="1856.7" font-size="18.2" textLength="294.9" lengthAdjust="spacingAndGlyphs">PWY-5897: menaquinol-11 biosynth.</text><text x="1323.8" y="1879.1" font-size="18.2" textLength="294.9" lengthAdjust="spacingAndGlyphs">PWY-5899: menaquinol-13 biosynth.</text><text x="1313.3" y="1901.6" font-size="18.2" textLength="304.0" lengthAdjust="spacingAndGlyphs">PWY-6837: fatty acid beta-oxidation V</text><text x="1357.9" y="1924.0" font-size="18.2" textLength="260.9" lengthAdjust="spacingAndGlyphs">PWY-5971: palmitate biosynth. II</text><text x="1338.8" y="1946.5" font-size="18.2" textLength="279.9" lengthAdjust="spacingAndGlyphs">PWY-5345: L-methionine biosynth.</text><text x="1268.1" y="1968.9" font-size="18.2" textLength="349.1" lengthAdjust="spacingAndGlyphs">PWY3DJ-35471: L-ascorbate biosynthesis IV</text><text x="1304.1" y="1991.3" font-size="18.2" textLength="313.8" lengthAdjust="spacingAndGlyphs">P42-PWY: incompl. reductive TCA cycle</text><text x="1342.0" y="2013.8" font-size="18.2" textLength="275.8" lengthAdjust="spacingAndGlyphs">PWY-6630: L-tyrosine biosynthesis</text><text x="1347.6" y="2036.2" font-size="18.2" textLength="270.1" lengthAdjust="spacingAndGlyphs">PWY-6113: mycolate biosynthesis</text></svg></body></html>
